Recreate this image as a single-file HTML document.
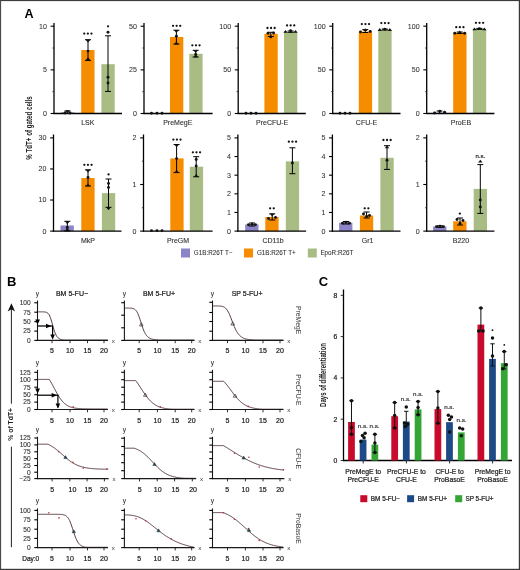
<!DOCTYPE html>
<html><head><meta charset="utf-8"><style>
html,body{margin:0;padding:0;background:#fff;width:520px;height:570px;overflow:hidden}
svg{display:block;will-change:transform}
text{font-family:"Liberation Sans", sans-serif}
</style></head><body>
<svg width="520" height="570" viewBox="0 0 520 570">
<rect width="520" height="570" fill="#fff"/>
<text x="24.60" y="18.40" font-size="12.6" text-anchor="start" fill="#000" font-weight="bold">A</text>
<rect x="61.00" y="112.40" width="13.30" height="1.10" fill="#8b84c6"/>
<rect x="81.20" y="50.00" width="13.30" height="63.50" fill="#f68c00"/>
<rect x="101.40" y="64.20" width="13.30" height="49.30" fill="#a8bc84"/>
<line x1="54.00" y1="22.90" x2="54.00" y2="114.10" stroke="#000" stroke-width="1.3"/>
<line x1="53.40" y1="113.50" x2="122.00" y2="113.50" stroke="#000" stroke-width="1.3"/>
<line x1="50.60" y1="26.20" x2="54.00" y2="26.20" stroke="#000" stroke-width="1.1"/>
<text x="47.00" y="28.60" font-size="7.1" text-anchor="end" fill="#333" font-weight="normal" stroke="#333" stroke-width="0.06">10</text>
<line x1="52.40" y1="48.02" x2="54.00" y2="48.02" stroke="#1a1a1a" stroke-width="0.8"/>
<line x1="50.60" y1="69.85" x2="54.00" y2="69.85" stroke="#000" stroke-width="1.1"/>
<text x="47.00" y="72.25" font-size="7.1" text-anchor="end" fill="#333" font-weight="normal" stroke="#333" stroke-width="0.06">5</text>
<line x1="52.40" y1="91.67" x2="54.00" y2="91.67" stroke="#1a1a1a" stroke-width="0.8"/>
<line x1="50.60" y1="113.50" x2="54.00" y2="113.50" stroke="#000" stroke-width="1.1"/>
<text x="47.00" y="115.90" font-size="7.1" text-anchor="end" fill="#333" font-weight="normal" stroke="#333" stroke-width="0.06">0</text>
<line x1="67.50" y1="111.00" x2="67.50" y2="113.50" stroke="#000" stroke-width="1.0"/>
<line x1="64.50" y1="111.00" x2="70.50" y2="111.00" stroke="#000" stroke-width="1.0"/>
<line x1="64.50" y1="113.50" x2="70.50" y2="113.50" stroke="#000" stroke-width="1.0"/>
<line x1="88.00" y1="39.70" x2="88.00" y2="60.40" stroke="#000" stroke-width="1.0"/>
<line x1="85.00" y1="39.70" x2="91.00" y2="39.70" stroke="#000" stroke-width="1.0"/>
<line x1="85.00" y1="60.40" x2="91.00" y2="60.40" stroke="#000" stroke-width="1.0"/>
<line x1="108.00" y1="35.80" x2="108.00" y2="91.40" stroke="#000" stroke-width="1.0"/>
<line x1="105.00" y1="35.80" x2="111.00" y2="35.80" stroke="#000" stroke-width="1.0"/>
<line x1="105.00" y1="91.40" x2="111.00" y2="91.40" stroke="#000" stroke-width="1.0"/>
<circle cx="65.00" cy="113.00" r="1.45" fill="#111"/>
<path d="M65.10,110.30L69.90,110.30L67.50,113.20Z" fill="#111"/>
<circle cx="70.00" cy="113.00" r="1.45" fill="#111"/>
<path d="M85.60,39.70L90.40,39.70L88.00,42.60Z" fill="#111"/>
<circle cx="88.00" cy="51.10" r="1.45" fill="#111"/>
<path d="M85.80,60.10L90.20,60.10L88.00,57.20Z" fill="#111"/>
<circle cx="108.00" cy="32.30" r="1.45" fill="#111"/>
<circle cx="108.00" cy="77.30" r="1.45" fill="#111"/>
<circle cx="108.00" cy="83.00" r="1.45" fill="#111"/>
<circle cx="84.25" cy="33.60" r="1.15" fill="#111"/>
<circle cx="87.85" cy="33.60" r="1.15" fill="#111"/>
<circle cx="91.45" cy="33.60" r="1.15" fill="#111"/>
<circle cx="108.05" cy="26.30" r="1.15" fill="#111"/>
<text x="87.85" y="124.50" font-size="7" text-anchor="middle" fill="#333" font-weight="normal" stroke="#333" stroke-width="0.12">LSK</text>
<rect x="170.00" y="37.00" width="13.30" height="76.50" fill="#f68c00"/>
<rect x="189.30" y="53.80" width="13.30" height="59.70" fill="#a8bc84"/>
<line x1="144.00" y1="22.90" x2="144.00" y2="114.10" stroke="#000" stroke-width="1.3"/>
<line x1="143.40" y1="113.50" x2="212.60" y2="113.50" stroke="#000" stroke-width="1.3"/>
<line x1="140.60" y1="26.20" x2="144.00" y2="26.20" stroke="#000" stroke-width="1.1"/>
<text x="137.00" y="28.60" font-size="7.1" text-anchor="end" fill="#333" font-weight="normal" stroke="#333" stroke-width="0.06">50</text>
<line x1="142.40" y1="48.02" x2="144.00" y2="48.02" stroke="#1a1a1a" stroke-width="0.8"/>
<line x1="140.60" y1="69.85" x2="144.00" y2="69.85" stroke="#000" stroke-width="1.1"/>
<text x="137.00" y="72.25" font-size="7.1" text-anchor="end" fill="#333" font-weight="normal" stroke="#333" stroke-width="0.06">25</text>
<line x1="142.40" y1="91.67" x2="144.00" y2="91.67" stroke="#1a1a1a" stroke-width="0.8"/>
<line x1="140.60" y1="113.50" x2="144.00" y2="113.50" stroke="#000" stroke-width="1.1"/>
<text x="137.00" y="115.90" font-size="7.1" text-anchor="end" fill="#333" font-weight="normal" stroke="#333" stroke-width="0.06">0</text>
<line x1="176.40" y1="30.20" x2="176.40" y2="44.10" stroke="#000" stroke-width="1.0"/>
<line x1="173.40" y1="30.20" x2="179.40" y2="30.20" stroke="#000" stroke-width="1.0"/>
<line x1="173.40" y1="44.10" x2="179.40" y2="44.10" stroke="#000" stroke-width="1.0"/>
<line x1="195.70" y1="50.30" x2="195.70" y2="57.00" stroke="#000" stroke-width="1.0"/>
<line x1="192.70" y1="50.30" x2="198.70" y2="50.30" stroke="#000" stroke-width="1.0"/>
<line x1="192.70" y1="57.00" x2="198.70" y2="57.00" stroke="#000" stroke-width="1.0"/>
<circle cx="151.50" cy="113.30" r="1.45" fill="#111"/>
<circle cx="157.00" cy="113.30" r="1.45" fill="#111"/>
<circle cx="162.00" cy="113.30" r="1.45" fill="#111"/>
<path d="M174.00,30.10L178.80,30.10L176.40,33.00Z" fill="#111"/>
<circle cx="176.40" cy="36.20" r="1.45" fill="#111"/>
<path d="M174.20,44.30L178.60,44.30L176.40,41.40Z" fill="#111"/>
<path d="M193.30,50.20L198.10,50.20L195.70,53.10Z" fill="#111"/>
<circle cx="195.70" cy="54.50" r="1.45" fill="#111"/>
<path d="M193.50,57.30L197.90,57.30L195.70,54.40Z" fill="#111"/>
<circle cx="173.05" cy="25.80" r="1.15" fill="#111"/>
<circle cx="176.65" cy="25.80" r="1.15" fill="#111"/>
<circle cx="180.25" cy="25.80" r="1.15" fill="#111"/>
<circle cx="192.35" cy="45.30" r="1.15" fill="#111"/>
<circle cx="195.95" cy="45.30" r="1.15" fill="#111"/>
<circle cx="199.55" cy="45.30" r="1.15" fill="#111"/>
<text x="177.75" y="124.50" font-size="7" text-anchor="middle" fill="#333" font-weight="normal" stroke="#333" stroke-width="0.12">PreMegE</text>
<rect x="264.40" y="33.80" width="13.30" height="79.70" fill="#f68c00"/>
<rect x="284.00" y="31.80" width="13.30" height="81.70" fill="#a8bc84"/>
<line x1="238.20" y1="22.90" x2="238.20" y2="114.10" stroke="#000" stroke-width="1.3"/>
<line x1="237.60" y1="113.50" x2="305.80" y2="113.50" stroke="#000" stroke-width="1.3"/>
<line x1="234.80" y1="26.20" x2="238.20" y2="26.20" stroke="#000" stroke-width="1.1"/>
<text x="231.20" y="28.60" font-size="7.1" text-anchor="end" fill="#333" font-weight="normal" stroke="#333" stroke-width="0.06">100</text>
<line x1="236.60" y1="48.02" x2="238.20" y2="48.02" stroke="#1a1a1a" stroke-width="0.8"/>
<line x1="234.80" y1="69.85" x2="238.20" y2="69.85" stroke="#000" stroke-width="1.1"/>
<text x="231.20" y="72.25" font-size="7.1" text-anchor="end" fill="#333" font-weight="normal" stroke="#333" stroke-width="0.06">50</text>
<line x1="236.60" y1="91.67" x2="238.20" y2="91.67" stroke="#1a1a1a" stroke-width="0.8"/>
<line x1="234.80" y1="113.50" x2="238.20" y2="113.50" stroke="#000" stroke-width="1.1"/>
<text x="231.20" y="115.90" font-size="7.1" text-anchor="end" fill="#333" font-weight="normal" stroke="#333" stroke-width="0.06">0</text>
<line x1="270.80" y1="32.30" x2="270.80" y2="36.50" stroke="#000" stroke-width="1.0"/>
<line x1="267.80" y1="32.30" x2="273.80" y2="32.30" stroke="#000" stroke-width="1.0"/>
<line x1="267.80" y1="36.50" x2="273.80" y2="36.50" stroke="#000" stroke-width="1.0"/>
<line x1="290.60" y1="31.00" x2="290.60" y2="32.30" stroke="#000" stroke-width="1.0"/>
<line x1="287.60" y1="31.00" x2="293.60" y2="31.00" stroke="#000" stroke-width="1.0"/>
<line x1="287.60" y1="32.30" x2="293.60" y2="32.30" stroke="#000" stroke-width="1.0"/>
<circle cx="246.00" cy="113.30" r="1.45" fill="#111"/>
<circle cx="251.00" cy="113.30" r="1.45" fill="#111"/>
<circle cx="256.00" cy="113.30" r="1.45" fill="#111"/>
<circle cx="268.00" cy="33.30" r="1.45" fill="#111"/>
<circle cx="270.80" cy="36.90" r="1.45" fill="#111"/>
<circle cx="273.60" cy="33.00" r="1.45" fill="#111"/>
<path d="M283.30,32.80L287.70,32.80L285.50,29.90Z" fill="#111"/>
<circle cx="290.60" cy="30.80" r="1.45" fill="#111"/>
<path d="M293.30,32.80L297.70,32.80L295.50,29.90Z" fill="#111"/>
<circle cx="267.45" cy="28.00" r="1.15" fill="#111"/>
<circle cx="271.05" cy="28.00" r="1.15" fill="#111"/>
<circle cx="274.65" cy="28.00" r="1.15" fill="#111"/>
<circle cx="287.05" cy="25.40" r="1.15" fill="#111"/>
<circle cx="290.65" cy="25.40" r="1.15" fill="#111"/>
<circle cx="294.25" cy="25.40" r="1.15" fill="#111"/>
<text x="272.15" y="124.50" font-size="7" text-anchor="middle" fill="#333" font-weight="normal" stroke="#333" stroke-width="0.12">PreCFU-E</text>
<rect x="358.80" y="31.60" width="13.30" height="81.90" fill="#f68c00"/>
<rect x="378.30" y="29.80" width="13.30" height="83.70" fill="#a8bc84"/>
<line x1="332.70" y1="22.90" x2="332.70" y2="114.10" stroke="#000" stroke-width="1.3"/>
<line x1="332.10" y1="113.50" x2="400.50" y2="113.50" stroke="#000" stroke-width="1.3"/>
<line x1="329.30" y1="26.20" x2="332.70" y2="26.20" stroke="#000" stroke-width="1.1"/>
<text x="325.70" y="28.60" font-size="7.1" text-anchor="end" fill="#333" font-weight="normal" stroke="#333" stroke-width="0.06">100</text>
<line x1="331.10" y1="48.02" x2="332.70" y2="48.02" stroke="#1a1a1a" stroke-width="0.8"/>
<line x1="329.30" y1="69.85" x2="332.70" y2="69.85" stroke="#000" stroke-width="1.1"/>
<text x="325.70" y="72.25" font-size="7.1" text-anchor="end" fill="#333" font-weight="normal" stroke="#333" stroke-width="0.06">50</text>
<line x1="331.10" y1="91.67" x2="332.70" y2="91.67" stroke="#1a1a1a" stroke-width="0.8"/>
<line x1="329.30" y1="113.50" x2="332.70" y2="113.50" stroke="#000" stroke-width="1.1"/>
<text x="325.70" y="115.90" font-size="7.1" text-anchor="end" fill="#333" font-weight="normal" stroke="#333" stroke-width="0.06">0</text>
<line x1="365.30" y1="29.60" x2="365.30" y2="32.50" stroke="#000" stroke-width="1.0"/>
<line x1="362.30" y1="29.60" x2="368.30" y2="29.60" stroke="#000" stroke-width="1.0"/>
<line x1="362.30" y1="32.50" x2="368.30" y2="32.50" stroke="#000" stroke-width="1.0"/>
<line x1="384.80" y1="29.00" x2="384.80" y2="30.00" stroke="#000" stroke-width="1.0"/>
<line x1="381.80" y1="29.00" x2="387.80" y2="29.00" stroke="#000" stroke-width="1.0"/>
<line x1="381.80" y1="30.00" x2="387.80" y2="30.00" stroke="#000" stroke-width="1.0"/>
<circle cx="340.00" cy="113.30" r="1.45" fill="#111"/>
<circle cx="345.00" cy="113.30" r="1.45" fill="#111"/>
<circle cx="350.00" cy="113.30" r="1.45" fill="#111"/>
<circle cx="360.50" cy="32.00" r="1.45" fill="#111"/>
<path d="M363.10,31.10L367.50,31.10L365.30,28.20Z" fill="#111"/>
<circle cx="370.20" cy="31.50" r="1.45" fill="#111"/>
<path d="M377.60,30.90L382.00,30.90L379.80,28.00Z" fill="#111"/>
<circle cx="384.80" cy="29.20" r="1.45" fill="#111"/>
<path d="M387.60,30.90L392.00,30.90L389.80,28.00Z" fill="#111"/>
<circle cx="361.85" cy="24.10" r="1.15" fill="#111"/>
<circle cx="365.45" cy="24.10" r="1.15" fill="#111"/>
<circle cx="369.05" cy="24.10" r="1.15" fill="#111"/>
<circle cx="381.35" cy="23.10" r="1.15" fill="#111"/>
<circle cx="384.95" cy="23.10" r="1.15" fill="#111"/>
<circle cx="388.55" cy="23.10" r="1.15" fill="#111"/>
<text x="366.55" y="124.50" font-size="7" text-anchor="middle" fill="#333" font-weight="normal" stroke="#333" stroke-width="0.12">CFU-E</text>
<rect x="433.00" y="112.60" width="13.30" height="0.90" fill="#8b84c6"/>
<rect x="453.20" y="32.60" width="13.30" height="80.90" fill="#f68c00"/>
<rect x="472.90" y="29.00" width="13.30" height="84.50" fill="#a8bc84"/>
<line x1="426.70" y1="22.90" x2="426.70" y2="114.10" stroke="#000" stroke-width="1.3"/>
<line x1="426.10" y1="113.50" x2="494.40" y2="113.50" stroke="#000" stroke-width="1.3"/>
<line x1="423.30" y1="26.20" x2="426.70" y2="26.20" stroke="#000" stroke-width="1.1"/>
<text x="419.70" y="28.60" font-size="7.1" text-anchor="end" fill="#333" font-weight="normal" stroke="#333" stroke-width="0.06">100</text>
<line x1="425.10" y1="48.02" x2="426.70" y2="48.02" stroke="#1a1a1a" stroke-width="0.8"/>
<line x1="423.30" y1="69.85" x2="426.70" y2="69.85" stroke="#000" stroke-width="1.1"/>
<text x="419.70" y="72.25" font-size="7.1" text-anchor="end" fill="#333" font-weight="normal" stroke="#333" stroke-width="0.06">50</text>
<line x1="425.10" y1="91.67" x2="426.70" y2="91.67" stroke="#1a1a1a" stroke-width="0.8"/>
<line x1="423.30" y1="113.50" x2="426.70" y2="113.50" stroke="#000" stroke-width="1.1"/>
<text x="419.70" y="115.90" font-size="7.1" text-anchor="end" fill="#333" font-weight="normal" stroke="#333" stroke-width="0.06">0</text>
<line x1="439.50" y1="111.00" x2="439.50" y2="113.50" stroke="#000" stroke-width="1.0"/>
<line x1="436.50" y1="111.00" x2="442.50" y2="111.00" stroke="#000" stroke-width="1.0"/>
<line x1="436.50" y1="113.50" x2="442.50" y2="113.50" stroke="#000" stroke-width="1.0"/>
<line x1="459.70" y1="32.00" x2="459.70" y2="33.50" stroke="#000" stroke-width="1.0"/>
<line x1="456.70" y1="32.00" x2="462.70" y2="32.00" stroke="#000" stroke-width="1.0"/>
<line x1="456.70" y1="33.50" x2="462.70" y2="33.50" stroke="#000" stroke-width="1.0"/>
<line x1="479.40" y1="28.40" x2="479.40" y2="29.40" stroke="#000" stroke-width="1.0"/>
<line x1="476.40" y1="28.40" x2="482.40" y2="28.40" stroke="#000" stroke-width="1.0"/>
<line x1="476.40" y1="29.40" x2="482.40" y2="29.40" stroke="#000" stroke-width="1.0"/>
<circle cx="434.60" cy="113.00" r="1.45" fill="#111"/>
<circle cx="439.80" cy="111.20" r="1.45" fill="#111"/>
<circle cx="444.60" cy="112.20" r="1.45" fill="#111"/>
<circle cx="454.80" cy="33.30" r="1.45" fill="#111"/>
<path d="M457.50,33.50L461.90,33.50L459.70,30.60Z" fill="#111"/>
<circle cx="464.60" cy="33.30" r="1.45" fill="#111"/>
<path d="M472.30,30.30L476.70,30.30L474.50,27.40Z" fill="#111"/>
<circle cx="479.40" cy="28.60" r="1.45" fill="#111"/>
<path d="M482.10,30.30L486.50,30.30L484.30,27.40Z" fill="#111"/>
<circle cx="456.25" cy="27.20" r="1.15" fill="#111"/>
<circle cx="459.85" cy="27.20" r="1.15" fill="#111"/>
<circle cx="463.45" cy="27.20" r="1.15" fill="#111"/>
<circle cx="475.95" cy="22.80" r="1.15" fill="#111"/>
<circle cx="479.55" cy="22.80" r="1.15" fill="#111"/>
<circle cx="483.15" cy="22.80" r="1.15" fill="#111"/>
<text x="460.95" y="124.50" font-size="7" text-anchor="middle" fill="#333" font-weight="normal" stroke="#333" stroke-width="0.12">ProEB</text>
<rect x="60.50" y="225.50" width="13.30" height="5.60" fill="#8b84c6"/>
<rect x="81.30" y="178.00" width="13.30" height="53.10" fill="#f68c00"/>
<rect x="101.90" y="193.10" width="13.30" height="38.00" fill="#a8bc84"/>
<line x1="53.50" y1="134.50" x2="53.50" y2="231.70" stroke="#000" stroke-width="1.3"/>
<line x1="52.90" y1="231.10" x2="121.50" y2="231.10" stroke="#000" stroke-width="1.3"/>
<line x1="50.10" y1="137.90" x2="53.50" y2="137.90" stroke="#000" stroke-width="1.1"/>
<text x="46.50" y="140.30" font-size="7.1" text-anchor="end" fill="#333" font-weight="normal" stroke="#333" stroke-width="0.06">30</text>
<line x1="50.10" y1="168.97" x2="53.50" y2="168.97" stroke="#000" stroke-width="1.1"/>
<text x="46.50" y="171.37" font-size="7.1" text-anchor="end" fill="#333" font-weight="normal" stroke="#333" stroke-width="0.06">20</text>
<line x1="50.10" y1="200.03" x2="53.50" y2="200.03" stroke="#000" stroke-width="1.1"/>
<text x="46.50" y="202.43" font-size="7.1" text-anchor="end" fill="#333" font-weight="normal" stroke="#333" stroke-width="0.06">10</text>
<line x1="50.10" y1="231.10" x2="53.50" y2="231.10" stroke="#000" stroke-width="1.1"/>
<text x="46.50" y="233.50" font-size="7.1" text-anchor="end" fill="#333" font-weight="normal" stroke="#333" stroke-width="0.06">0</text>
<line x1="67.30" y1="221.30" x2="67.30" y2="230.80" stroke="#000" stroke-width="1.0"/>
<line x1="64.30" y1="221.30" x2="70.30" y2="221.30" stroke="#000" stroke-width="1.0"/>
<line x1="64.30" y1="230.80" x2="70.30" y2="230.80" stroke="#000" stroke-width="1.0"/>
<line x1="88.00" y1="169.80" x2="88.00" y2="186.00" stroke="#000" stroke-width="1.0"/>
<line x1="85.00" y1="169.80" x2="91.00" y2="169.80" stroke="#000" stroke-width="1.0"/>
<line x1="85.00" y1="186.00" x2="91.00" y2="186.00" stroke="#000" stroke-width="1.0"/>
<line x1="108.50" y1="179.00" x2="108.50" y2="207.30" stroke="#000" stroke-width="1.0"/>
<line x1="105.50" y1="179.00" x2="111.50" y2="179.00" stroke="#000" stroke-width="1.0"/>
<line x1="105.50" y1="207.30" x2="111.50" y2="207.30" stroke="#000" stroke-width="1.0"/>
<path d="M64.90,221.30L69.70,221.30L67.30,224.20Z" fill="#111"/>
<circle cx="67.30" cy="227.50" r="1.45" fill="#111"/>
<circle cx="67.30" cy="230.00" r="1.45" fill="#111"/>
<path d="M85.60,169.70L90.40,169.70L88.00,172.60Z" fill="#111"/>
<circle cx="88.00" cy="177.50" r="1.45" fill="#111"/>
<path d="M85.80,186.30L90.20,186.30L88.00,183.40Z" fill="#111"/>
<circle cx="108.50" cy="183.50" r="1.45" fill="#111"/>
<circle cx="108.50" cy="187.50" r="1.45" fill="#111"/>
<path d="M106.10,207.30L110.90,207.30L108.50,210.20Z" fill="#111"/>
<circle cx="84.35" cy="164.80" r="1.15" fill="#111"/>
<circle cx="87.95" cy="164.80" r="1.15" fill="#111"/>
<circle cx="91.55" cy="164.80" r="1.15" fill="#111"/>
<circle cx="108.55" cy="174.40" r="1.15" fill="#111"/>
<text x="87.95" y="242.50" font-size="7" text-anchor="middle" fill="#333" font-weight="normal" stroke="#333" stroke-width="0.12">MkP</text>
<rect x="150.00" y="230.80" width="13.30" height="0.30" fill="#8b84c6"/>
<rect x="170.30" y="158.40" width="13.30" height="72.70" fill="#f68c00"/>
<rect x="189.80" y="166.70" width="13.30" height="64.40" fill="#a8bc84"/>
<line x1="143.50" y1="134.50" x2="143.50" y2="231.70" stroke="#000" stroke-width="1.3"/>
<line x1="142.90" y1="231.10" x2="212.60" y2="231.10" stroke="#000" stroke-width="1.3"/>
<line x1="140.10" y1="137.90" x2="143.50" y2="137.90" stroke="#000" stroke-width="1.1"/>
<text x="136.50" y="140.30" font-size="7.1" text-anchor="end" fill="#333" font-weight="normal" stroke="#333" stroke-width="0.06">2</text>
<line x1="141.90" y1="161.20" x2="143.50" y2="161.20" stroke="#1a1a1a" stroke-width="0.8"/>
<line x1="140.10" y1="184.50" x2="143.50" y2="184.50" stroke="#000" stroke-width="1.1"/>
<text x="136.50" y="186.90" font-size="7.1" text-anchor="end" fill="#333" font-weight="normal" stroke="#333" stroke-width="0.06">1</text>
<line x1="141.90" y1="207.80" x2="143.50" y2="207.80" stroke="#1a1a1a" stroke-width="0.8"/>
<line x1="140.10" y1="231.10" x2="143.50" y2="231.10" stroke="#000" stroke-width="1.1"/>
<text x="136.50" y="233.50" font-size="7.1" text-anchor="end" fill="#333" font-weight="normal" stroke="#333" stroke-width="0.06">0</text>
<line x1="176.60" y1="144.50" x2="176.60" y2="172.60" stroke="#000" stroke-width="1.0"/>
<line x1="173.60" y1="144.50" x2="179.60" y2="144.50" stroke="#000" stroke-width="1.0"/>
<line x1="173.60" y1="172.60" x2="179.60" y2="172.60" stroke="#000" stroke-width="1.0"/>
<line x1="196.20" y1="156.70" x2="196.20" y2="176.80" stroke="#000" stroke-width="1.0"/>
<line x1="193.20" y1="156.70" x2="199.20" y2="156.70" stroke="#000" stroke-width="1.0"/>
<line x1="193.20" y1="176.80" x2="199.20" y2="176.80" stroke="#000" stroke-width="1.0"/>
<circle cx="151.50" cy="230.60" r="1.45" fill="#111"/>
<circle cx="157.00" cy="230.60" r="1.45" fill="#111"/>
<circle cx="162.00" cy="230.60" r="1.45" fill="#111"/>
<circle cx="176.60" cy="158.60" r="1.45" fill="#111"/>
<path d="M174.20,144.40L179.00,144.40L176.60,147.30Z" fill="#111"/>
<path d="M174.40,172.70L178.80,172.70L176.60,169.80Z" fill="#111"/>
<circle cx="196.20" cy="159.50" r="1.45" fill="#111"/>
<circle cx="196.20" cy="166.00" r="1.45" fill="#111"/>
<path d="M194.00,176.90L198.40,176.90L196.20,174.00Z" fill="#111"/>
<circle cx="173.35" cy="139.60" r="1.15" fill="#111"/>
<circle cx="176.95" cy="139.60" r="1.15" fill="#111"/>
<circle cx="180.55" cy="139.60" r="1.15" fill="#111"/>
<circle cx="192.85" cy="152.30" r="1.15" fill="#111"/>
<circle cx="196.45" cy="152.30" r="1.15" fill="#111"/>
<circle cx="200.05" cy="152.30" r="1.15" fill="#111"/>
<text x="178.05" y="242.50" font-size="7" text-anchor="middle" fill="#333" font-weight="normal" stroke="#333" stroke-width="0.12">PreGM</text>
<rect x="245.20" y="224.40" width="13.30" height="6.70" fill="#8b84c6"/>
<rect x="265.30" y="217.00" width="13.30" height="14.10" fill="#f68c00"/>
<rect x="285.80" y="161.40" width="13.30" height="69.70" fill="#a8bc84"/>
<line x1="237.90" y1="134.50" x2="237.90" y2="231.70" stroke="#000" stroke-width="1.3"/>
<line x1="237.30" y1="231.10" x2="306.10" y2="231.10" stroke="#000" stroke-width="1.3"/>
<line x1="234.50" y1="137.90" x2="237.90" y2="137.90" stroke="#000" stroke-width="1.1"/>
<text x="230.90" y="140.30" font-size="7.1" text-anchor="end" fill="#333" font-weight="normal" stroke="#333" stroke-width="0.06">5</text>
<line x1="234.50" y1="156.54" x2="237.90" y2="156.54" stroke="#000" stroke-width="1.1"/>
<text x="230.90" y="158.94" font-size="7.1" text-anchor="end" fill="#333" font-weight="normal" stroke="#333" stroke-width="0.06">4</text>
<line x1="234.50" y1="175.18" x2="237.90" y2="175.18" stroke="#000" stroke-width="1.1"/>
<text x="230.90" y="177.58" font-size="7.1" text-anchor="end" fill="#333" font-weight="normal" stroke="#333" stroke-width="0.06">3</text>
<line x1="234.50" y1="193.82" x2="237.90" y2="193.82" stroke="#000" stroke-width="1.1"/>
<text x="230.90" y="196.22" font-size="7.1" text-anchor="end" fill="#333" font-weight="normal" stroke="#333" stroke-width="0.06">2</text>
<line x1="234.50" y1="212.46" x2="237.90" y2="212.46" stroke="#000" stroke-width="1.1"/>
<text x="230.90" y="214.86" font-size="7.1" text-anchor="end" fill="#333" font-weight="normal" stroke="#333" stroke-width="0.06">1</text>
<line x1="234.50" y1="231.10" x2="237.90" y2="231.10" stroke="#000" stroke-width="1.1"/>
<text x="230.90" y="233.50" font-size="7.1" text-anchor="end" fill="#333" font-weight="normal" stroke="#333" stroke-width="0.06">0</text>
<line x1="252.10" y1="223.00" x2="252.10" y2="226.00" stroke="#000" stroke-width="1.0"/>
<line x1="249.10" y1="223.00" x2="255.10" y2="223.00" stroke="#000" stroke-width="1.0"/>
<line x1="249.10" y1="226.00" x2="255.10" y2="226.00" stroke="#000" stroke-width="1.0"/>
<line x1="272.20" y1="213.90" x2="272.20" y2="220.00" stroke="#000" stroke-width="1.0"/>
<line x1="269.20" y1="213.90" x2="275.20" y2="213.90" stroke="#000" stroke-width="1.0"/>
<line x1="269.20" y1="220.00" x2="275.20" y2="220.00" stroke="#000" stroke-width="1.0"/>
<line x1="292.40" y1="147.80" x2="292.40" y2="173.70" stroke="#000" stroke-width="1.0"/>
<line x1="289.40" y1="147.80" x2="295.40" y2="147.80" stroke="#000" stroke-width="1.0"/>
<line x1="289.40" y1="173.70" x2="295.40" y2="173.70" stroke="#000" stroke-width="1.0"/>
<circle cx="248.50" cy="224.80" r="1.45" fill="#111"/>
<path d="M249.90,224.90L254.30,224.90L252.10,222.00Z" fill="#111"/>
<circle cx="255.50" cy="224.60" r="1.45" fill="#111"/>
<circle cx="268.50" cy="218.50" r="1.45" fill="#111"/>
<path d="M269.80,213.60L274.60,213.60L272.20,216.50Z" fill="#111"/>
<circle cx="275.50" cy="217.50" r="1.45" fill="#111"/>
<circle cx="292.40" cy="163.00" r="1.45" fill="#111"/>
<circle cx="270.15" cy="208.30" r="1.15" fill="#111"/>
<circle cx="273.75" cy="208.30" r="1.15" fill="#111"/>
<circle cx="288.85" cy="141.70" r="1.15" fill="#111"/>
<circle cx="292.45" cy="141.70" r="1.15" fill="#111"/>
<circle cx="296.05" cy="141.70" r="1.15" fill="#111"/>
<text x="273.05" y="242.50" font-size="7" text-anchor="middle" fill="#333" font-weight="normal" stroke="#333" stroke-width="0.12">CD11b</text>
<rect x="339.10" y="222.70" width="13.30" height="8.40" fill="#8b84c6"/>
<rect x="359.90" y="215.50" width="13.30" height="15.60" fill="#f68c00"/>
<rect x="380.40" y="157.80" width="13.30" height="73.30" fill="#a8bc84"/>
<line x1="332.40" y1="134.50" x2="332.40" y2="231.70" stroke="#000" stroke-width="1.3"/>
<line x1="331.80" y1="231.10" x2="400.50" y2="231.10" stroke="#000" stroke-width="1.3"/>
<line x1="329.00" y1="137.90" x2="332.40" y2="137.90" stroke="#000" stroke-width="1.1"/>
<text x="325.40" y="140.30" font-size="7.1" text-anchor="end" fill="#333" font-weight="normal" stroke="#333" stroke-width="0.06">5</text>
<line x1="329.00" y1="156.54" x2="332.40" y2="156.54" stroke="#000" stroke-width="1.1"/>
<text x="325.40" y="158.94" font-size="7.1" text-anchor="end" fill="#333" font-weight="normal" stroke="#333" stroke-width="0.06">4</text>
<line x1="329.00" y1="175.18" x2="332.40" y2="175.18" stroke="#000" stroke-width="1.1"/>
<text x="325.40" y="177.58" font-size="7.1" text-anchor="end" fill="#333" font-weight="normal" stroke="#333" stroke-width="0.06">3</text>
<line x1="329.00" y1="193.82" x2="332.40" y2="193.82" stroke="#000" stroke-width="1.1"/>
<text x="325.40" y="196.22" font-size="7.1" text-anchor="end" fill="#333" font-weight="normal" stroke="#333" stroke-width="0.06">2</text>
<line x1="329.00" y1="212.46" x2="332.40" y2="212.46" stroke="#000" stroke-width="1.1"/>
<text x="325.40" y="214.86" font-size="7.1" text-anchor="end" fill="#333" font-weight="normal" stroke="#333" stroke-width="0.06">1</text>
<line x1="329.00" y1="231.10" x2="332.40" y2="231.10" stroke="#000" stroke-width="1.1"/>
<text x="325.40" y="233.50" font-size="7.1" text-anchor="end" fill="#333" font-weight="normal" stroke="#333" stroke-width="0.06">0</text>
<line x1="346.00" y1="221.50" x2="346.00" y2="224.00" stroke="#000" stroke-width="1.0"/>
<line x1="343.00" y1="221.50" x2="349.00" y2="221.50" stroke="#000" stroke-width="1.0"/>
<line x1="343.00" y1="224.00" x2="349.00" y2="224.00" stroke="#000" stroke-width="1.0"/>
<line x1="366.60" y1="212.00" x2="366.60" y2="218.00" stroke="#000" stroke-width="1.0"/>
<line x1="363.60" y1="212.00" x2="369.60" y2="212.00" stroke="#000" stroke-width="1.0"/>
<line x1="363.60" y1="218.00" x2="369.60" y2="218.00" stroke="#000" stroke-width="1.0"/>
<line x1="387.00" y1="145.70" x2="387.00" y2="169.40" stroke="#000" stroke-width="1.0"/>
<line x1="384.00" y1="145.70" x2="390.00" y2="145.70" stroke="#000" stroke-width="1.0"/>
<line x1="384.00" y1="169.40" x2="390.00" y2="169.40" stroke="#000" stroke-width="1.0"/>
<circle cx="342.50" cy="223.30" r="1.45" fill="#111"/>
<path d="M343.80,223.30L348.20,223.30L346.00,220.40Z" fill="#111"/>
<circle cx="349.50" cy="223.30" r="1.45" fill="#111"/>
<circle cx="363.50" cy="214.00" r="1.45" fill="#111"/>
<circle cx="366.60" cy="216.50" r="1.45" fill="#111"/>
<circle cx="369.50" cy="215.50" r="1.45" fill="#111"/>
<circle cx="387.00" cy="160.20" r="1.45" fill="#111"/>
<path d="M384.80,148.30L389.20,148.30L387.00,145.40Z" fill="#111"/>
<circle cx="364.75" cy="208.30" r="1.15" fill="#111"/>
<circle cx="368.35" cy="208.30" r="1.15" fill="#111"/>
<circle cx="383.45" cy="140.00" r="1.15" fill="#111"/>
<circle cx="387.05" cy="140.00" r="1.15" fill="#111"/>
<circle cx="390.65" cy="140.00" r="1.15" fill="#111"/>
<text x="367.65" y="242.50" font-size="7" text-anchor="middle" fill="#333" font-weight="normal" stroke="#333" stroke-width="0.12">Gr1</text>
<rect x="433.10" y="226.50" width="13.30" height="4.60" fill="#8b84c6"/>
<rect x="453.20" y="221.30" width="13.30" height="9.80" fill="#f68c00"/>
<rect x="473.70" y="188.90" width="13.30" height="42.20" fill="#a8bc84"/>
<line x1="426.70" y1="134.50" x2="426.70" y2="231.70" stroke="#000" stroke-width="1.3"/>
<line x1="426.10" y1="231.10" x2="494.40" y2="231.10" stroke="#000" stroke-width="1.3"/>
<line x1="423.30" y1="137.90" x2="426.70" y2="137.90" stroke="#000" stroke-width="1.1"/>
<text x="419.70" y="140.30" font-size="7.1" text-anchor="end" fill="#333" font-weight="normal" stroke="#333" stroke-width="0.06">2</text>
<line x1="425.10" y1="161.20" x2="426.70" y2="161.20" stroke="#1a1a1a" stroke-width="0.8"/>
<line x1="423.30" y1="184.50" x2="426.70" y2="184.50" stroke="#000" stroke-width="1.1"/>
<text x="419.70" y="186.90" font-size="7.1" text-anchor="end" fill="#333" font-weight="normal" stroke="#333" stroke-width="0.06">1</text>
<line x1="425.10" y1="207.80" x2="426.70" y2="207.80" stroke="#1a1a1a" stroke-width="0.8"/>
<line x1="423.30" y1="231.10" x2="426.70" y2="231.10" stroke="#000" stroke-width="1.1"/>
<text x="419.70" y="233.50" font-size="7.1" text-anchor="end" fill="#333" font-weight="normal" stroke="#333" stroke-width="0.06">0</text>
<line x1="440.00" y1="225.80" x2="440.00" y2="227.30" stroke="#000" stroke-width="1.0"/>
<line x1="437.00" y1="225.80" x2="443.00" y2="225.80" stroke="#000" stroke-width="1.0"/>
<line x1="437.00" y1="227.30" x2="443.00" y2="227.30" stroke="#000" stroke-width="1.0"/>
<line x1="460.00" y1="218.00" x2="460.00" y2="225.00" stroke="#000" stroke-width="1.0"/>
<line x1="457.00" y1="218.00" x2="463.00" y2="218.00" stroke="#000" stroke-width="1.0"/>
<line x1="457.00" y1="225.00" x2="463.00" y2="225.00" stroke="#000" stroke-width="1.0"/>
<line x1="480.30" y1="164.60" x2="480.30" y2="213.40" stroke="#000" stroke-width="1.0"/>
<line x1="477.30" y1="164.60" x2="483.30" y2="164.60" stroke="#000" stroke-width="1.0"/>
<line x1="477.30" y1="213.40" x2="483.30" y2="213.40" stroke="#000" stroke-width="1.0"/>
<circle cx="436.50" cy="226.60" r="1.45" fill="#111"/>
<circle cx="440.00" cy="226.30" r="1.45" fill="#111"/>
<circle cx="443.50" cy="226.60" r="1.45" fill="#111"/>
<circle cx="457.00" cy="219.50" r="1.45" fill="#111"/>
<circle cx="460.00" cy="223.50" r="1.45" fill="#111"/>
<circle cx="463.00" cy="220.50" r="1.45" fill="#111"/>
<path d="M478.10,162.60L482.50,162.60L480.30,159.70Z" fill="#111"/>
<circle cx="480.30" cy="200.00" r="1.45" fill="#111"/>
<circle cx="480.30" cy="207.00" r="1.45" fill="#111"/>
<circle cx="459.85" cy="213.60" r="1.15" fill="#111"/>
<text x="480.35" y="157.50" font-size="6" text-anchor="middle" fill="#222222" font-weight="normal" stroke="#222222" stroke-width="0.22">n.s.</text>
<text x="460.95" y="242.50" font-size="7" text-anchor="middle" fill="#333" font-weight="normal" stroke="#333" stroke-width="0.12">B220</text>
<text x="31.70" y="128.00" font-size="8.8" text-anchor="middle" fill="#222" font-weight="bold" transform="rotate(-90 31.7 128.0)" textLength="63.5" lengthAdjust="spacingAndGlyphs">% TdT+ of gated cells</text>
<rect x="181.00" y="248.50" width="9.00" height="9.00" fill="#8b84c6"/>
<text x="193.80" y="255.10" font-size="6.3" text-anchor="start" fill="#333" font-weight="normal" stroke="#333" stroke-width="0.08">G1B:R26T T&#8722;</text>
<rect x="244.00" y="248.50" width="9.00" height="9.00" fill="#f68c00"/>
<text x="256.90" y="255.10" font-size="6.3" text-anchor="start" fill="#333" font-weight="normal" stroke="#333" stroke-width="0.08">G1B:R26T T+</text>
<rect x="307.80" y="248.50" width="9.00" height="9.00" fill="#a8bc84"/>
<text x="320.40" y="255.10" font-size="6.3" text-anchor="start" fill="#333" font-weight="normal" stroke="#333" stroke-width="0.08">EpoR:R26T</text>
<text x="7.10" y="285.90" font-size="13" text-anchor="start" fill="#000" font-weight="bold">B</text>
<text x="72.00" y="296.20" font-size="7" text-anchor="middle" fill="#222" font-weight="normal" stroke="#222" stroke-width="0.22">BM 5-FU&#8722;</text>
<text x="159.00" y="296.20" font-size="7" text-anchor="middle" fill="#222" font-weight="normal" stroke="#222" stroke-width="0.22">BM 5-FU+</text>
<text x="247.10" y="296.20" font-size="7" text-anchor="middle" fill="#222" font-weight="normal" stroke="#222" stroke-width="0.22">SP 5-FU+</text>
<path d="M37.50,311.86 L38.08,311.86 L38.67,311.86 L39.25,311.86 L39.83,311.86 L40.42,311.86 L41.00,311.86 L41.58,311.86 L42.17,311.86 L42.75,311.87 L43.33,311.88 L43.92,311.91 L44.50,311.94 L45.08,312.01 L45.67,312.11 L46.25,312.27 L46.83,312.50 L47.42,312.84 L48.00,313.33 L48.58,314.00 L49.17,314.89 L49.75,316.04 L50.33,317.46 L50.92,319.14 L51.50,321.05 L52.08,323.11 L52.67,325.24 L53.25,327.33 L53.83,329.32 L54.42,331.13 L55.00,332.72 L55.58,334.10 L56.17,335.26 L56.75,336.22 L57.33,337.01 L57.92,337.65 L58.50,338.17 L59.08,338.59 L59.67,338.93 L60.25,339.20 L60.83,339.42 L61.42,339.60 L62.00,339.75 L62.58,339.86 L63.17,339.96 L63.75,340.04 L64.33,340.10 L64.92,340.10 L65.50,340.10 L66.08,340.10 L66.67,340.10 L67.25,340.10 L67.83,340.10 L68.42,340.10 L69.00,340.10 L69.58,340.10 L70.17,340.10 L70.75,340.10 L71.33,340.10 L71.92,340.10 L72.50,340.10 L73.08,340.10 L73.67,340.10 L74.25,340.10 L74.83,340.10 L75.42,340.10 L76.00,340.10 L76.58,340.10 L77.17,340.10 L77.75,340.10 L78.33,340.10 L78.92,340.10 L79.50,340.10 L80.08,340.10 L80.67,340.10 L81.25,340.10 L81.83,340.10 L82.42,340.10 L83.00,340.10 L83.58,340.10 L84.17,340.10 L84.75,340.10 L85.33,340.10 L85.92,340.10 L86.50,340.10 L87.08,340.10 L87.67,340.10 L88.25,340.10 L88.83,340.10 L89.42,340.10 L90.00,340.10 L90.58,340.10 L91.17,340.10 L91.75,340.10 L92.33,340.10 L92.92,340.10 L93.50,340.10 L94.08,340.10 L94.67,340.10 L95.25,340.10 L95.83,340.10 L96.42,340.10 L97.00,340.10 L97.58,340.10 L98.17,340.10 L98.75,340.10 L99.33,340.10 L99.92,340.10 L100.50,340.10 L101.08,340.10 L101.67,340.10 L102.25,340.10 L102.83,340.10 L103.42,340.10 L104.00,340.10 L104.58,340.10 L105.17,340.10 L105.75,340.10 L106.33,340.10 L106.92,340.10 L107.50,340.10" fill="none" stroke="#45262d" stroke-width="0.9"/>
<line x1="37.50" y1="300.50" x2="37.50" y2="340.90" stroke="#1a1a1a" stroke-width="1.1"/>
<line x1="37.00" y1="340.40" x2="108.00" y2="340.40" stroke="#1a1a1a" stroke-width="1.1"/>
<text x="113.30" y="342.50" font-size="6.2" text-anchor="middle" fill="#333" font-weight="normal">x</text>
<text x="37.50" y="295.70" font-size="6.6" text-anchor="middle" fill="#333" font-weight="normal" stroke="#333" stroke-width="0.1">y</text>
<line x1="34.30" y1="302.80" x2="37.50" y2="302.80" stroke="#000" stroke-width="1.1"/>
<text x="30.70" y="305.15" font-size="6.6" text-anchor="end" fill="#2a2a2a" font-weight="normal" stroke="#2a2a2a" stroke-width="0.08">100</text>
<line x1="34.30" y1="312.20" x2="37.50" y2="312.20" stroke="#000" stroke-width="1.1"/>
<text x="30.70" y="314.55" font-size="6.6" text-anchor="end" fill="#2a2a2a" font-weight="normal" stroke="#2a2a2a" stroke-width="0.08">75</text>
<line x1="34.30" y1="321.70" x2="37.50" y2="321.70" stroke="#000" stroke-width="1.1"/>
<text x="30.70" y="324.05" font-size="6.6" text-anchor="end" fill="#2a2a2a" font-weight="normal" stroke="#2a2a2a" stroke-width="0.08">50</text>
<line x1="34.30" y1="331.10" x2="37.50" y2="331.10" stroke="#000" stroke-width="1.1"/>
<text x="30.70" y="333.45" font-size="6.6" text-anchor="end" fill="#2a2a2a" font-weight="normal" stroke="#2a2a2a" stroke-width="0.08">25</text>
<line x1="34.30" y1="340.40" x2="37.50" y2="340.40" stroke="#000" stroke-width="1.1"/>
<text x="30.70" y="342.75" font-size="6.6" text-anchor="end" fill="#2a2a2a" font-weight="normal" stroke="#2a2a2a" stroke-width="0.08">0</text>
<line x1="52.00" y1="340.40" x2="52.00" y2="343.20" stroke="#1a1a1a" stroke-width="0.9"/>
<text x="52.00" y="353.40" font-size="7" text-anchor="middle" fill="#222" font-weight="normal" stroke="#222" stroke-width="0.22">5</text>
<line x1="70.00" y1="340.40" x2="70.00" y2="343.20" stroke="#1a1a1a" stroke-width="0.9"/>
<text x="70.00" y="353.40" font-size="7" text-anchor="middle" fill="#222" font-weight="normal" stroke="#222" stroke-width="0.22">10</text>
<line x1="87.50" y1="340.40" x2="87.50" y2="343.20" stroke="#1a1a1a" stroke-width="0.9"/>
<text x="87.50" y="353.40" font-size="7" text-anchor="middle" fill="#222" font-weight="normal" stroke="#222" stroke-width="0.22">15</text>
<line x1="104.00" y1="340.40" x2="104.00" y2="343.20" stroke="#1a1a1a" stroke-width="0.9"/>
<text x="104.00" y="353.40" font-size="7" text-anchor="middle" fill="#222" font-weight="normal" stroke="#222" stroke-width="0.22">20</text>
<path d="M124.40,308.06 L124.98,308.06 L125.56,308.06 L126.14,308.06 L126.72,308.06 L127.30,308.06 L127.89,308.06 L128.47,308.06 L129.05,308.07 L129.63,308.08 L130.21,308.10 L130.79,308.14 L131.37,308.18 L131.95,308.26 L132.53,308.36 L133.11,308.51 L133.69,308.72 L134.27,309.01 L134.86,309.39 L135.44,309.88 L136.02,310.51 L136.60,311.30 L137.18,312.27 L137.76,313.42 L138.34,314.75 L138.92,316.26 L139.50,317.91 L140.08,319.68 L140.66,321.51 L141.24,323.35 L141.82,325.17 L142.41,326.90 L142.99,328.53 L143.57,330.03 L144.15,331.38 L144.73,332.59 L145.31,333.65 L145.89,334.58 L146.47,335.39 L147.05,336.08 L147.63,336.67 L148.21,337.18 L148.80,337.62 L149.38,337.99 L149.96,338.30 L150.54,338.57 L151.12,338.80 L151.70,339.00 L152.28,339.17 L152.86,339.31 L153.44,339.43 L154.02,339.54 L154.60,339.63 L155.18,339.71 L155.76,339.78 L156.35,339.84 L156.93,339.89 L157.51,339.93 L158.09,339.97 L158.67,340.00 L159.25,340.03 L159.83,340.06 L160.41,340.08 L160.99,340.10 L161.57,340.10 L162.15,340.10 L162.74,340.10 L163.32,340.10 L163.90,340.10 L164.48,340.10 L165.06,340.10 L165.64,340.10 L166.22,340.10 L166.80,340.10 L167.38,340.10 L167.96,340.10 L168.54,340.10 L169.12,340.10 L169.70,340.10 L170.29,340.10 L170.87,340.10 L171.45,340.10 L172.03,340.10 L172.61,340.10 L173.19,340.10 L173.77,340.10 L174.35,340.10 L174.93,340.10 L175.51,340.10 L176.09,340.10 L176.68,340.10 L177.26,340.10 L177.84,340.10 L178.42,340.10 L179.00,340.10 L179.58,340.10 L180.16,340.10 L180.74,340.10 L181.32,340.10 L181.90,340.10 L182.48,340.10 L183.06,340.10 L183.64,340.10 L184.23,340.10 L184.81,340.10 L185.39,340.10 L185.97,340.10 L186.55,340.10 L187.13,340.10 L187.71,340.10 L188.29,340.10 L188.87,340.10 L189.45,340.10 L190.03,340.10 L190.62,340.10 L191.20,340.10 L191.78,340.10 L192.36,340.10 L192.94,340.10 L193.52,340.10 L194.10,340.10" fill="none" stroke="#45262d" stroke-width="0.9"/>
<path d="M139.50,325.90L143.10,325.90L141.30,322.70Z" fill="none" stroke="#333" stroke-width="0.7"/>
<line x1="124.40" y1="300.50" x2="124.40" y2="340.90" stroke="#1a1a1a" stroke-width="1.1"/>
<line x1="123.90" y1="340.40" x2="194.60" y2="340.40" stroke="#1a1a1a" stroke-width="1.1"/>
<text x="199.90" y="342.50" font-size="6.2" text-anchor="middle" fill="#333" font-weight="normal">x</text>
<text x="124.40" y="295.70" font-size="6.6" text-anchor="middle" fill="#333" font-weight="normal" stroke="#333" stroke-width="0.1">y</text>
<line x1="121.20" y1="302.70" x2="124.40" y2="302.70" stroke="#000" stroke-width="1.1"/>
<line x1="121.20" y1="315.20" x2="124.40" y2="315.20" stroke="#000" stroke-width="1.1"/>
<line x1="121.20" y1="327.80" x2="124.40" y2="327.80" stroke="#000" stroke-width="1.1"/>
<line x1="121.20" y1="340.40" x2="124.40" y2="340.40" stroke="#000" stroke-width="1.1"/>
<line x1="139.20" y1="340.40" x2="139.20" y2="343.20" stroke="#1a1a1a" stroke-width="0.9"/>
<text x="139.20" y="353.40" font-size="7" text-anchor="middle" fill="#222" font-weight="normal" stroke="#222" stroke-width="0.22">5</text>
<line x1="157.40" y1="340.40" x2="157.40" y2="343.20" stroke="#1a1a1a" stroke-width="0.9"/>
<text x="157.40" y="353.40" font-size="7" text-anchor="middle" fill="#222" font-weight="normal" stroke="#222" stroke-width="0.22">10</text>
<line x1="175.20" y1="340.40" x2="175.20" y2="343.20" stroke="#1a1a1a" stroke-width="0.9"/>
<text x="175.20" y="353.40" font-size="7" text-anchor="middle" fill="#222" font-weight="normal" stroke="#222" stroke-width="0.22">15</text>
<line x1="191.70" y1="340.40" x2="191.70" y2="343.20" stroke="#1a1a1a" stroke-width="0.9"/>
<text x="191.70" y="353.40" font-size="7" text-anchor="middle" fill="#222" font-weight="normal" stroke="#222" stroke-width="0.22">20</text>
<path d="M212.50,305.93 L213.09,305.93 L213.68,305.93 L214.26,305.93 L214.85,305.93 L215.44,305.94 L216.03,305.94 L216.62,305.94 L217.21,305.95 L217.80,305.96 L218.38,305.97 L218.97,305.99 L219.56,306.02 L220.15,306.06 L220.74,306.12 L221.33,306.21 L221.91,306.32 L222.50,306.46 L223.09,306.65 L223.68,306.90 L224.27,307.21 L224.85,307.60 L225.44,308.07 L226.03,308.65 L226.62,309.34 L227.21,310.15 L227.80,311.08 L228.39,312.14 L228.97,313.32 L229.56,314.62 L230.15,316.01 L230.74,317.48 L231.33,319.01 L231.92,320.57 L232.50,322.12 L233.09,323.66 L233.68,325.15 L234.27,326.58 L234.86,327.92 L235.44,329.18 L236.03,330.35 L236.62,331.41 L237.21,332.38 L237.80,333.26 L238.39,334.04 L238.98,334.75 L239.56,335.37 L240.15,335.93 L240.74,336.43 L241.33,336.87 L241.92,337.25 L242.50,337.60 L243.09,337.90 L243.68,338.17 L244.27,338.41 L244.86,338.61 L245.45,338.80 L246.04,338.96 L246.62,339.11 L247.21,339.24 L247.80,339.35 L248.39,339.46 L248.98,339.55 L249.56,339.63 L250.15,339.70 L250.74,339.77 L251.33,339.82 L251.92,339.88 L252.51,339.92 L253.10,339.96 L253.68,340.00 L254.27,340.03 L254.86,340.07 L255.45,340.09 L256.04,340.10 L256.62,340.10 L257.21,340.10 L257.80,340.10 L258.39,340.10 L258.98,340.10 L259.57,340.10 L260.16,340.10 L260.74,340.10 L261.33,340.10 L261.92,340.10 L262.51,340.10 L263.10,340.10 L263.69,340.10 L264.27,340.10 L264.86,340.10 L265.45,340.10 L266.04,340.10 L266.63,340.10 L267.22,340.10 L267.80,340.10 L268.39,340.10 L268.98,340.10 L269.57,340.10 L270.16,340.10 L270.75,340.10 L271.33,340.10 L271.92,340.10 L272.51,340.10 L273.10,340.10 L273.69,340.10 L274.28,340.10 L274.86,340.10 L275.45,340.10 L276.04,340.10 L276.63,340.10 L277.22,340.10 L277.81,340.10 L278.39,340.10 L278.98,340.10 L279.57,340.10 L280.16,340.10 L280.75,340.10 L281.34,340.10 L281.92,340.10 L282.51,340.10 L283.10,340.10" fill="none" stroke="#45262d" stroke-width="0.9"/>
<path d="M230.90,325.00L234.50,325.00L232.70,321.80Z" fill="none" stroke="#333" stroke-width="0.7"/>
<line x1="212.50" y1="300.50" x2="212.50" y2="340.90" stroke="#1a1a1a" stroke-width="1.1"/>
<line x1="212.00" y1="340.40" x2="283.60" y2="340.40" stroke="#1a1a1a" stroke-width="1.1"/>
<text x="288.90" y="342.50" font-size="6.2" text-anchor="middle" fill="#333" font-weight="normal">x</text>
<text x="212.50" y="295.70" font-size="6.6" text-anchor="middle" fill="#333" font-weight="normal" stroke="#333" stroke-width="0.1">y</text>
<line x1="209.30" y1="302.30" x2="212.50" y2="302.30" stroke="#000" stroke-width="1.1"/>
<line x1="209.30" y1="312.50" x2="212.50" y2="312.50" stroke="#000" stroke-width="1.1"/>
<line x1="209.30" y1="321.50" x2="212.50" y2="321.50" stroke="#000" stroke-width="1.1"/>
<line x1="209.30" y1="331.20" x2="212.50" y2="331.20" stroke="#000" stroke-width="1.1"/>
<line x1="209.30" y1="340.40" x2="212.50" y2="340.40" stroke="#000" stroke-width="1.1"/>
<line x1="227.50" y1="340.40" x2="227.50" y2="343.20" stroke="#1a1a1a" stroke-width="0.9"/>
<text x="227.50" y="353.40" font-size="7" text-anchor="middle" fill="#222" font-weight="normal" stroke="#222" stroke-width="0.22">5</text>
<line x1="245.40" y1="340.40" x2="245.40" y2="343.20" stroke="#1a1a1a" stroke-width="0.9"/>
<text x="245.40" y="353.40" font-size="7" text-anchor="middle" fill="#222" font-weight="normal" stroke="#222" stroke-width="0.22">10</text>
<line x1="263.00" y1="340.40" x2="263.00" y2="343.20" stroke="#1a1a1a" stroke-width="0.9"/>
<text x="263.00" y="353.40" font-size="7" text-anchor="middle" fill="#222" font-weight="normal" stroke="#222" stroke-width="0.22">15</text>
<line x1="280.00" y1="340.40" x2="280.00" y2="343.20" stroke="#1a1a1a" stroke-width="0.9"/>
<text x="280.00" y="353.40" font-size="7" text-anchor="middle" fill="#222" font-weight="normal" stroke="#222" stroke-width="0.22">20</text>
<path d="M37.50,379.40 L38.08,379.40 L38.67,379.40 L39.25,379.40 L39.83,379.40 L40.42,379.40 L41.00,379.40 L41.58,379.40 L42.17,379.40 L42.75,379.40 L43.33,379.40 L43.92,379.40 L44.50,379.40 L45.08,379.40 L45.67,379.40 L46.25,379.40 L46.83,379.40 L47.42,379.40 L48.00,379.40 L48.58,379.40 L49.17,379.40 L49.75,380.26 L50.33,381.19 L50.92,382.16 L51.50,383.16 L52.08,384.19 L52.67,385.24 L53.25,386.32 L53.83,387.41 L54.42,388.50 L55.00,389.60 L55.58,390.69 L56.17,391.77 L56.75,392.83 L57.33,393.87 L57.92,394.88 L58.50,395.86 L59.08,396.80 L59.67,397.70 L60.25,398.56 L60.83,399.37 L61.42,400.14 L62.00,400.87 L62.58,401.55 L63.17,402.18 L63.75,402.77 L64.33,403.32 L64.92,403.82 L65.50,404.29 L66.08,404.72 L66.67,405.11 L67.25,405.47 L67.83,405.80 L68.42,406.10 L69.00,406.38 L69.58,406.63 L70.17,406.86 L70.75,407.06 L71.33,407.25 L71.92,407.42 L72.50,407.57 L73.08,407.71 L73.67,407.84 L74.25,407.95 L74.83,408.05 L75.42,408.14 L76.00,408.23 L76.58,408.30 L77.17,408.37 L77.75,408.43 L78.33,408.48 L78.92,408.53 L79.50,408.58 L80.08,408.62 L80.67,408.65 L81.25,408.68 L81.83,408.71 L82.42,408.74 L83.00,408.76 L83.58,408.78 L84.17,408.80 L84.75,408.82 L85.33,408.83 L85.92,408.85 L86.50,408.86 L87.08,408.87 L87.67,408.88 L88.25,408.89 L88.83,408.90 L89.42,408.90 L90.00,408.91 L90.58,408.92 L91.17,408.92 L91.75,408.93 L92.33,408.93 L92.92,408.93 L93.50,408.94 L94.08,408.94 L94.67,408.94 L95.25,408.95 L95.83,408.95 L96.42,408.95 L97.00,408.95 L97.58,408.95 L98.17,408.95 L98.75,408.96 L99.33,408.96 L99.92,408.96 L100.50,408.96 L101.08,408.96 L101.67,408.96 L102.25,408.96 L102.83,408.96 L103.42,408.96 L104.00,408.96 L104.58,408.96 L105.17,408.96 L105.75,408.96 L106.33,408.96 L106.92,408.96 L107.50,408.96" fill="none" stroke="#45262d" stroke-width="0.9"/>
<circle cx="73.30" cy="406.90" r="0.8" fill="#c0303a"/>
<line x1="37.50" y1="369.80" x2="37.50" y2="410.00" stroke="#1a1a1a" stroke-width="1.1"/>
<line x1="37.00" y1="409.50" x2="108.00" y2="409.50" stroke="#1a1a1a" stroke-width="1.1"/>
<text x="113.30" y="411.60" font-size="6.2" text-anchor="middle" fill="#333" font-weight="normal">x</text>
<text x="37.50" y="365.00" font-size="6.6" text-anchor="middle" fill="#333" font-weight="normal" stroke="#333" stroke-width="0.1">y</text>
<line x1="34.30" y1="372.30" x2="37.50" y2="372.30" stroke="#000" stroke-width="1.1"/>
<text x="30.70" y="374.65" font-size="6.6" text-anchor="end" fill="#2a2a2a" font-weight="normal" stroke="#2a2a2a" stroke-width="0.08">125</text>
<line x1="34.30" y1="379.70" x2="37.50" y2="379.70" stroke="#000" stroke-width="1.1"/>
<text x="30.70" y="382.05" font-size="6.6" text-anchor="end" fill="#2a2a2a" font-weight="normal" stroke="#2a2a2a" stroke-width="0.08">100</text>
<line x1="34.30" y1="387.20" x2="37.50" y2="387.20" stroke="#000" stroke-width="1.1"/>
<text x="30.70" y="389.55" font-size="6.6" text-anchor="end" fill="#2a2a2a" font-weight="normal" stroke="#2a2a2a" stroke-width="0.08">75</text>
<line x1="34.30" y1="394.70" x2="37.50" y2="394.70" stroke="#000" stroke-width="1.1"/>
<text x="30.70" y="397.05" font-size="6.6" text-anchor="end" fill="#2a2a2a" font-weight="normal" stroke="#2a2a2a" stroke-width="0.08">50</text>
<line x1="34.30" y1="402.10" x2="37.50" y2="402.10" stroke="#000" stroke-width="1.1"/>
<text x="30.70" y="404.45" font-size="6.6" text-anchor="end" fill="#2a2a2a" font-weight="normal" stroke="#2a2a2a" stroke-width="0.08">25</text>
<line x1="34.30" y1="409.50" x2="37.50" y2="409.50" stroke="#000" stroke-width="1.1"/>
<text x="30.70" y="411.85" font-size="6.6" text-anchor="end" fill="#2a2a2a" font-weight="normal" stroke="#2a2a2a" stroke-width="0.08">0</text>
<line x1="52.00" y1="409.50" x2="52.00" y2="412.30" stroke="#1a1a1a" stroke-width="0.9"/>
<text x="52.00" y="422.50" font-size="7" text-anchor="middle" fill="#222" font-weight="normal" stroke="#222" stroke-width="0.22">5</text>
<line x1="70.00" y1="409.50" x2="70.00" y2="412.30" stroke="#1a1a1a" stroke-width="0.9"/>
<text x="70.00" y="422.50" font-size="7" text-anchor="middle" fill="#222" font-weight="normal" stroke="#222" stroke-width="0.22">10</text>
<line x1="87.50" y1="409.50" x2="87.50" y2="412.30" stroke="#1a1a1a" stroke-width="0.9"/>
<text x="87.50" y="422.50" font-size="7" text-anchor="middle" fill="#222" font-weight="normal" stroke="#222" stroke-width="0.22">15</text>
<line x1="104.00" y1="409.50" x2="104.00" y2="412.30" stroke="#1a1a1a" stroke-width="0.9"/>
<text x="104.00" y="422.50" font-size="7" text-anchor="middle" fill="#222" font-weight="normal" stroke="#222" stroke-width="0.22">20</text>
<path d="M124.40,380.60 L124.98,380.60 L125.56,380.60 L126.14,380.60 L126.72,380.60 L127.30,380.60 L127.89,380.60 L128.47,380.60 L129.05,380.60 L129.63,380.60 L130.21,380.60 L130.79,380.60 L131.37,380.60 L131.95,380.60 L132.53,380.60 L133.11,380.60 L133.69,380.60 L134.27,380.60 L134.86,380.60 L135.44,380.60 L136.02,380.90 L136.60,381.70 L137.18,382.53 L137.76,383.38 L138.34,384.24 L138.92,385.12 L139.50,386.01 L140.08,386.90 L140.66,387.81 L141.24,388.71 L141.82,389.61 L142.41,390.50 L142.99,391.39 L143.57,392.27 L144.15,393.13 L144.73,393.98 L145.31,394.81 L145.89,395.61 L146.47,396.40 L147.05,397.16 L147.63,397.89 L148.21,398.59 L148.80,399.27 L149.38,399.92 L149.96,400.54 L150.54,401.13 L151.12,401.69 L151.70,402.22 L152.28,402.72 L152.86,403.20 L153.44,403.65 L154.02,404.07 L154.60,404.47 L155.18,404.84 L155.76,405.19 L156.35,405.51 L156.93,405.82 L157.51,406.10 L158.09,406.37 L158.67,406.61 L159.25,406.84 L159.83,407.06 L160.41,407.25 L160.99,407.44 L161.57,407.61 L162.15,407.77 L162.74,407.91 L163.32,408.05 L163.90,408.17 L164.48,408.29 L165.06,408.39 L165.64,408.49 L166.22,408.58 L166.80,408.67 L167.38,408.75 L167.96,408.82 L168.54,408.88 L169.12,408.94 L169.70,409.00 L170.29,409.05 L170.87,409.10 L171.45,409.14 L172.03,409.18 L172.61,409.20 L173.19,409.20 L173.77,409.20 L174.35,409.20 L174.93,409.20 L175.51,409.20 L176.09,409.20 L176.68,409.20 L177.26,409.20 L177.84,409.20 L178.42,409.20 L179.00,409.20 L179.58,409.20 L180.16,409.20 L180.74,409.20 L181.32,409.20 L181.90,409.20 L182.48,409.20 L183.06,409.20 L183.64,409.20 L184.23,409.20 L184.81,409.20 L185.39,409.20 L185.97,409.20 L186.55,409.20 L187.13,409.20 L187.71,409.20 L188.29,409.20 L188.87,409.20 L189.45,409.20 L190.03,409.20 L190.62,409.20 L191.20,409.20 L191.78,409.20 L192.36,409.20 L192.94,409.20 L193.52,409.20 L194.10,409.20" fill="none" stroke="#45262d" stroke-width="0.9"/>
<circle cx="160.30" cy="406.90" r="0.8" fill="#c0303a"/>
<path d="M143.50,396.30L147.10,396.30L145.30,393.10Z" fill="none" stroke="#333" stroke-width="0.7"/>
<line x1="124.40" y1="369.80" x2="124.40" y2="410.00" stroke="#1a1a1a" stroke-width="1.1"/>
<line x1="123.90" y1="409.50" x2="194.60" y2="409.50" stroke="#1a1a1a" stroke-width="1.1"/>
<text x="199.90" y="411.60" font-size="6.2" text-anchor="middle" fill="#333" font-weight="normal">x</text>
<text x="124.40" y="365.00" font-size="6.6" text-anchor="middle" fill="#333" font-weight="normal" stroke="#333" stroke-width="0.1">y</text>
<line x1="121.20" y1="372.30" x2="124.40" y2="372.30" stroke="#000" stroke-width="1.1"/>
<line x1="121.20" y1="379.70" x2="124.40" y2="379.70" stroke="#000" stroke-width="1.1"/>
<line x1="121.20" y1="387.20" x2="124.40" y2="387.20" stroke="#000" stroke-width="1.1"/>
<line x1="121.20" y1="394.70" x2="124.40" y2="394.70" stroke="#000" stroke-width="1.1"/>
<line x1="121.20" y1="402.10" x2="124.40" y2="402.10" stroke="#000" stroke-width="1.1"/>
<line x1="121.20" y1="409.50" x2="124.40" y2="409.50" stroke="#000" stroke-width="1.1"/>
<line x1="139.20" y1="409.50" x2="139.20" y2="412.30" stroke="#1a1a1a" stroke-width="0.9"/>
<text x="139.20" y="422.50" font-size="7" text-anchor="middle" fill="#222" font-weight="normal" stroke="#222" stroke-width="0.22">5</text>
<line x1="157.40" y1="409.50" x2="157.40" y2="412.30" stroke="#1a1a1a" stroke-width="0.9"/>
<text x="157.40" y="422.50" font-size="7" text-anchor="middle" fill="#222" font-weight="normal" stroke="#222" stroke-width="0.22">10</text>
<line x1="175.20" y1="409.50" x2="175.20" y2="412.30" stroke="#1a1a1a" stroke-width="0.9"/>
<text x="175.20" y="422.50" font-size="7" text-anchor="middle" fill="#222" font-weight="normal" stroke="#222" stroke-width="0.22">15</text>
<line x1="191.70" y1="409.50" x2="191.70" y2="412.30" stroke="#1a1a1a" stroke-width="0.9"/>
<text x="191.70" y="422.50" font-size="7" text-anchor="middle" fill="#222" font-weight="normal" stroke="#222" stroke-width="0.22">20</text>
<path d="M212.50,381.30 L213.09,381.30 L213.68,381.30 L214.26,381.30 L214.85,381.30 L215.44,381.30 L216.03,381.30 L216.62,381.30 L217.21,381.30 L217.80,381.30 L218.38,381.30 L218.97,381.30 L219.56,381.30 L220.15,381.30 L220.74,381.30 L221.33,381.30 L221.91,381.30 L222.50,381.30 L223.09,381.30 L223.68,381.30 L224.27,381.81 L224.85,382.48 L225.44,383.16 L226.03,383.87 L226.62,384.59 L227.21,385.34 L227.80,386.10 L228.39,386.87 L228.97,387.65 L229.56,388.44 L230.15,389.24 L230.74,390.04 L231.33,390.84 L231.92,391.64 L232.50,392.43 L233.09,393.22 L233.68,394.00 L234.27,394.76 L234.86,395.51 L235.44,396.24 L236.03,396.96 L236.62,397.65 L237.21,398.32 L237.80,398.97 L238.39,399.60 L238.98,400.20 L239.56,400.78 L240.15,401.33 L240.74,401.86 L241.33,402.36 L241.92,402.83 L242.50,403.29 L243.09,403.71 L243.68,404.12 L244.27,404.50 L244.86,404.86 L245.45,405.19 L246.04,405.51 L246.62,405.80 L247.21,406.08 L247.80,406.34 L248.39,406.58 L248.98,406.81 L249.56,407.02 L250.15,407.22 L250.74,407.40 L251.33,407.57 L251.92,407.73 L252.51,407.87 L253.10,408.01 L253.68,408.13 L254.27,408.25 L254.86,408.36 L255.45,408.46 L256.04,408.55 L256.62,408.64 L257.21,408.72 L257.80,408.79 L258.39,408.86 L258.98,408.92 L259.57,408.98 L260.16,409.04 L260.74,409.08 L261.33,409.13 L261.92,409.17 L262.51,409.20 L263.10,409.20 L263.69,409.20 L264.27,409.20 L264.86,409.20 L265.45,409.20 L266.04,409.20 L266.63,409.20 L267.22,409.20 L267.80,409.20 L268.39,409.20 L268.98,409.20 L269.57,409.20 L270.16,409.20 L270.75,409.20 L271.33,409.20 L271.92,409.20 L272.51,409.20 L273.10,409.20 L273.69,409.20 L274.28,409.20 L274.86,409.20 L275.45,409.20 L276.04,409.20 L276.63,409.20 L277.22,409.20 L277.81,409.20 L278.39,409.20 L278.98,409.20 L279.57,409.20 L280.16,409.20 L280.75,409.20 L281.34,409.20 L281.92,409.20 L282.51,409.20 L283.10,409.20" fill="none" stroke="#45262d" stroke-width="0.9"/>
<circle cx="248.30" cy="406.40" r="0.8" fill="#c0303a"/>
<path d="M233.20,397.20L236.80,397.20L235.00,394.00Z" fill="none" stroke="#333" stroke-width="0.7"/>
<line x1="212.50" y1="369.80" x2="212.50" y2="410.00" stroke="#1a1a1a" stroke-width="1.1"/>
<line x1="212.00" y1="409.50" x2="283.60" y2="409.50" stroke="#1a1a1a" stroke-width="1.1"/>
<text x="288.90" y="411.60" font-size="6.2" text-anchor="middle" fill="#333" font-weight="normal">x</text>
<text x="212.50" y="365.00" font-size="6.6" text-anchor="middle" fill="#333" font-weight="normal" stroke="#333" stroke-width="0.1">y</text>
<line x1="209.30" y1="372.30" x2="212.50" y2="372.30" stroke="#000" stroke-width="1.1"/>
<line x1="209.30" y1="379.70" x2="212.50" y2="379.70" stroke="#000" stroke-width="1.1"/>
<line x1="209.30" y1="387.20" x2="212.50" y2="387.20" stroke="#000" stroke-width="1.1"/>
<line x1="209.30" y1="394.70" x2="212.50" y2="394.70" stroke="#000" stroke-width="1.1"/>
<line x1="209.30" y1="402.10" x2="212.50" y2="402.10" stroke="#000" stroke-width="1.1"/>
<line x1="209.30" y1="409.50" x2="212.50" y2="409.50" stroke="#000" stroke-width="1.1"/>
<line x1="227.50" y1="409.50" x2="227.50" y2="412.30" stroke="#1a1a1a" stroke-width="0.9"/>
<text x="227.50" y="422.50" font-size="7" text-anchor="middle" fill="#222" font-weight="normal" stroke="#222" stroke-width="0.22">5</text>
<line x1="245.40" y1="409.50" x2="245.40" y2="412.30" stroke="#1a1a1a" stroke-width="0.9"/>
<text x="245.40" y="422.50" font-size="7" text-anchor="middle" fill="#222" font-weight="normal" stroke="#222" stroke-width="0.22">10</text>
<line x1="263.00" y1="409.50" x2="263.00" y2="412.30" stroke="#1a1a1a" stroke-width="0.9"/>
<text x="263.00" y="422.50" font-size="7" text-anchor="middle" fill="#222" font-weight="normal" stroke="#222" stroke-width="0.22">15</text>
<line x1="280.00" y1="409.50" x2="280.00" y2="412.30" stroke="#1a1a1a" stroke-width="0.9"/>
<text x="280.00" y="422.50" font-size="7" text-anchor="middle" fill="#222" font-weight="normal" stroke="#222" stroke-width="0.22">20</text>
<path d="M37.50,444.20 L38.09,444.20 L38.68,444.20 L39.27,444.20 L39.86,444.20 L40.45,444.20 L41.04,444.20 L41.62,444.20 L42.21,444.20 L42.80,444.20 L43.39,444.20 L43.98,444.20 L44.57,444.20 L45.16,444.20 L45.75,444.20 L46.34,444.20 L46.93,444.20 L47.52,444.20 L48.11,444.29 L48.69,444.57 L49.28,444.86 L49.87,445.17 L50.46,445.49 L51.05,445.82 L51.64,446.17 L52.23,446.53 L52.82,446.91 L53.41,447.30 L54.00,447.71 L54.59,448.13 L55.17,448.56 L55.76,449.01 L56.35,449.47 L56.94,449.94 L57.53,450.42 L58.12,450.91 L58.71,451.40 L59.30,451.91 L59.89,452.42 L60.48,452.94 L61.07,453.46 L61.66,453.99 L62.25,454.51 L62.83,455.04 L63.42,455.56 L64.01,456.09 L64.60,456.61 L65.19,457.12 L65.78,457.63 L66.37,458.13 L66.96,458.62 L67.55,459.10 L68.14,459.57 L68.73,460.03 L69.31,460.48 L69.90,460.92 L70.49,461.34 L71.08,461.75 L71.67,462.15 L72.26,462.53 L72.85,462.90 L73.44,463.25 L74.03,463.59 L74.62,463.91 L75.21,464.22 L75.80,464.52 L76.38,464.80 L76.97,465.07 L77.56,465.32 L78.15,465.57 L78.74,465.80 L79.33,466.01 L79.92,466.22 L80.51,466.42 L81.10,466.60 L81.69,466.77 L82.28,466.94 L82.87,467.09 L83.46,467.24 L84.04,467.38 L84.63,467.50 L85.22,467.63 L85.81,467.74 L86.40,467.85 L86.99,467.95 L87.58,468.04 L88.17,468.13 L88.76,468.21 L89.35,468.29 L89.94,468.36 L90.53,468.43 L91.11,468.49 L91.70,468.55 L92.29,468.60 L92.88,468.66 L93.47,468.70 L94.06,468.75 L94.65,468.79 L95.24,468.83 L95.83,468.87 L96.42,468.90 L97.01,468.93 L97.59,468.96 L98.18,468.99 L98.77,469.02 L99.36,469.04 L99.95,469.07 L100.54,469.09 L101.13,469.11 L101.72,469.13 L102.31,469.14 L102.90,469.16 L103.49,469.17 L104.08,469.19 L104.67,469.20 L105.25,469.21 L105.84,469.22 L106.43,469.23 L107.02,469.24 L107.61,469.25 L108.20,469.26" fill="none" stroke="#45262d" stroke-width="0.9"/>
<circle cx="58.60" cy="451.70" r="0.8" fill="#c0303a"/>
<circle cx="72.90" cy="462.40" r="0.8" fill="#c0303a"/>
<circle cx="83.30" cy="468.10" r="0.8" fill="#c0303a"/>
<circle cx="107.00" cy="468.80" r="0.8" fill="#c0303a"/>
<path d="M63.80,458.60L67.20,458.60L65.50,455.60Z" fill="#24404a" stroke="#24404a" stroke-width="0.5"/>
<line x1="37.50" y1="436.80" x2="37.50" y2="479.10" stroke="#1a1a1a" stroke-width="1.1"/>
<line x1="37.00" y1="478.60" x2="108.70" y2="478.60" stroke="#1a1a1a" stroke-width="1.1"/>
<text x="114.00" y="480.70" font-size="6.2" text-anchor="middle" fill="#333" font-weight="normal">x</text>
<text x="37.50" y="432.20" font-size="6.6" text-anchor="middle" fill="#333" font-weight="normal" stroke="#333" stroke-width="0.1">y</text>
<line x1="34.30" y1="438.00" x2="37.50" y2="438.00" stroke="#000" stroke-width="1.1"/>
<text x="30.70" y="440.35" font-size="6.6" text-anchor="end" fill="#2a2a2a" font-weight="normal" stroke="#2a2a2a" stroke-width="0.08">125</text>
<line x1="34.30" y1="444.90" x2="37.50" y2="444.90" stroke="#000" stroke-width="1.1"/>
<text x="30.70" y="447.25" font-size="6.6" text-anchor="end" fill="#2a2a2a" font-weight="normal" stroke="#2a2a2a" stroke-width="0.08">100</text>
<line x1="34.30" y1="451.80" x2="37.50" y2="451.80" stroke="#000" stroke-width="1.1"/>
<text x="30.70" y="454.15" font-size="6.6" text-anchor="end" fill="#2a2a2a" font-weight="normal" stroke="#2a2a2a" stroke-width="0.08">75</text>
<line x1="34.30" y1="458.60" x2="37.50" y2="458.60" stroke="#000" stroke-width="1.1"/>
<text x="30.70" y="460.95" font-size="6.6" text-anchor="end" fill="#2a2a2a" font-weight="normal" stroke="#2a2a2a" stroke-width="0.08">50</text>
<line x1="34.30" y1="465.50" x2="37.50" y2="465.50" stroke="#000" stroke-width="1.1"/>
<text x="30.70" y="467.85" font-size="6.6" text-anchor="end" fill="#2a2a2a" font-weight="normal" stroke="#2a2a2a" stroke-width="0.08">25</text>
<line x1="34.30" y1="472.20" x2="37.50" y2="472.20" stroke="#000" stroke-width="1.1"/>
<text x="30.70" y="474.55" font-size="6.6" text-anchor="end" fill="#2a2a2a" font-weight="normal" stroke="#2a2a2a" stroke-width="0.08">0</text>
<line x1="34.30" y1="478.60" x2="37.50" y2="478.60" stroke="#000" stroke-width="1.1"/>
<text x="30.70" y="480.95" font-size="6.6" text-anchor="end" fill="#2a2a2a" font-weight="normal" stroke="#2a2a2a" stroke-width="0.08">&#8722;25</text>
<line x1="52.10" y1="478.60" x2="52.10" y2="481.40" stroke="#1a1a1a" stroke-width="0.9"/>
<text x="52.10" y="491.60" font-size="7" text-anchor="middle" fill="#222" font-weight="normal" stroke="#222" stroke-width="0.22">5</text>
<line x1="69.80" y1="478.60" x2="69.80" y2="481.40" stroke="#1a1a1a" stroke-width="0.9"/>
<text x="72.40" y="491.60" font-size="7" text-anchor="middle" fill="#222" font-weight="normal" stroke="#222" stroke-width="0.22">10</text>
<line x1="87.10" y1="478.60" x2="87.10" y2="481.40" stroke="#1a1a1a" stroke-width="0.9"/>
<text x="88.30" y="491.60" font-size="7" text-anchor="middle" fill="#222" font-weight="normal" stroke="#222" stroke-width="0.22">15</text>
<line x1="104.40" y1="478.60" x2="104.40" y2="481.40" stroke="#1a1a1a" stroke-width="0.9"/>
<text x="104.00" y="491.60" font-size="7" text-anchor="middle" fill="#222" font-weight="normal" stroke="#222" stroke-width="0.22">20</text>
<path d="M124.40,448.20 L124.99,448.20 L125.59,448.20 L126.18,448.20 L126.78,448.20 L127.37,448.20 L127.97,448.20 L128.56,448.20 L129.15,448.20 L129.75,448.20 L130.34,448.20 L130.94,448.20 L131.53,448.20 L132.12,448.20 L132.72,448.20 L133.31,448.20 L133.91,448.20 L134.50,448.31 L135.09,448.52 L135.69,448.75 L136.28,448.99 L136.88,449.24 L137.47,449.51 L138.07,449.80 L138.66,450.10 L139.25,450.42 L139.85,450.75 L140.44,451.11 L141.04,451.48 L141.63,451.87 L142.22,452.28 L142.82,452.71 L143.41,453.16 L144.01,453.63 L144.60,454.11 L145.20,454.61 L145.79,455.13 L146.38,455.67 L146.98,456.22 L147.57,456.79 L148.17,457.37 L148.76,457.97 L149.35,458.57 L149.95,459.19 L150.54,459.81 L151.14,460.44 L151.73,461.08 L152.33,461.72 L152.92,462.36 L153.51,463.00 L154.11,463.63 L154.70,464.26 L155.30,464.89 L155.89,465.51 L156.49,466.11 L157.08,466.71 L157.67,467.30 L158.27,467.87 L158.86,468.42 L159.46,468.96 L160.05,469.49 L160.64,469.99 L161.24,470.48 L161.83,470.95 L162.43,471.40 L163.02,471.84 L163.62,472.25 L164.21,472.64 L164.80,473.02 L165.40,473.38 L165.99,473.72 L166.59,474.04 L167.18,474.35 L167.77,474.64 L168.37,474.91 L168.96,475.17 L169.56,475.41 L170.15,475.64 L170.75,475.85 L171.34,476.05 L171.93,476.24 L172.53,476.42 L173.12,476.59 L173.72,476.74 L174.31,476.89 L174.90,477.02 L175.50,477.15 L176.09,477.27 L176.69,477.38 L177.28,477.48 L177.88,477.58 L178.47,477.67 L179.06,477.75 L179.66,477.83 L180.25,477.90 L180.85,477.97 L181.44,478.03 L182.03,478.09 L182.63,478.14 L183.22,478.19 L183.82,478.24 L184.41,478.28 L185.00,478.30 L185.60,478.30 L186.19,478.30 L186.79,478.30 L187.38,478.30 L187.98,478.30 L188.57,478.30 L189.16,478.30 L189.76,478.30 L190.35,478.30 L190.95,478.30 L191.54,478.30 L192.13,478.30 L192.73,478.30 L193.32,478.30 L193.92,478.30 L194.51,478.30 L195.11,478.30 L195.70,478.30" fill="none" stroke="#45262d" stroke-width="0.9"/>
<path d="M152.80,465.50L156.20,465.50L154.50,462.50Z" fill="#24404a" stroke="#24404a" stroke-width="0.5"/>
<line x1="124.40" y1="436.80" x2="124.40" y2="479.10" stroke="#1a1a1a" stroke-width="1.1"/>
<line x1="123.90" y1="478.60" x2="196.20" y2="478.60" stroke="#1a1a1a" stroke-width="1.1"/>
<text x="201.50" y="480.70" font-size="6.2" text-anchor="middle" fill="#333" font-weight="normal">x</text>
<text x="124.40" y="432.20" font-size="6.6" text-anchor="middle" fill="#333" font-weight="normal" stroke="#333" stroke-width="0.1">y</text>
<line x1="121.20" y1="438.20" x2="124.40" y2="438.20" stroke="#000" stroke-width="1.1"/>
<line x1="121.20" y1="446.50" x2="124.40" y2="446.50" stroke="#000" stroke-width="1.1"/>
<line x1="121.20" y1="454.60" x2="124.40" y2="454.60" stroke="#000" stroke-width="1.1"/>
<line x1="121.20" y1="462.70" x2="124.40" y2="462.70" stroke="#000" stroke-width="1.1"/>
<line x1="121.20" y1="470.70" x2="124.40" y2="470.70" stroke="#000" stroke-width="1.1"/>
<line x1="121.20" y1="478.60" x2="124.40" y2="478.60" stroke="#000" stroke-width="1.1"/>
<line x1="139.50" y1="478.60" x2="139.50" y2="481.40" stroke="#1a1a1a" stroke-width="0.9"/>
<text x="139.60" y="491.60" font-size="7" text-anchor="middle" fill="#222" font-weight="normal" stroke="#222" stroke-width="0.22">5</text>
<line x1="157.20" y1="478.60" x2="157.20" y2="481.40" stroke="#1a1a1a" stroke-width="0.9"/>
<text x="157.70" y="491.60" font-size="7" text-anchor="middle" fill="#222" font-weight="normal" stroke="#222" stroke-width="0.22">10</text>
<line x1="174.60" y1="478.60" x2="174.60" y2="481.40" stroke="#1a1a1a" stroke-width="0.9"/>
<text x="175.40" y="491.60" font-size="7" text-anchor="middle" fill="#222" font-weight="normal" stroke="#222" stroke-width="0.22">15</text>
<line x1="192.30" y1="478.60" x2="192.30" y2="481.40" stroke="#1a1a1a" stroke-width="0.9"/>
<text x="193.10" y="491.60" font-size="7" text-anchor="middle" fill="#222" font-weight="normal" stroke="#222" stroke-width="0.22">20</text>
<path d="M212.50,445.60 L213.09,445.60 L213.69,445.60 L214.28,445.60 L214.88,445.60 L215.47,445.60 L216.07,445.60 L216.66,445.60 L217.26,445.60 L217.85,445.60 L218.45,445.60 L219.04,445.60 L219.64,445.60 L220.23,445.60 L220.83,445.60 L221.42,445.60 L222.02,445.60 L222.62,445.60 L223.21,445.60 L223.81,445.82 L224.40,446.18 L225.00,446.54 L225.59,446.90 L226.19,447.26 L226.78,447.62 L227.38,447.99 L227.97,448.36 L228.56,448.73 L229.16,449.10 L229.75,449.47 L230.35,449.84 L230.94,450.21 L231.54,450.59 L232.13,450.96 L232.73,451.33 L233.32,451.71 L233.92,452.08 L234.51,452.45 L235.11,452.82 L235.70,453.19 L236.30,453.56 L236.89,453.92 L237.49,454.29 L238.08,454.65 L238.68,455.01 L239.27,455.36 L239.87,455.72 L240.46,456.07 L241.06,456.42 L241.66,456.76 L242.25,457.10 L242.84,457.44 L243.44,457.77 L244.03,458.10 L244.63,458.43 L245.22,458.75 L245.82,459.07 L246.41,459.38 L247.01,459.69 L247.60,460.00 L248.20,460.30 L248.79,460.59 L249.39,460.88 L249.98,461.17 L250.58,461.45 L251.17,461.72 L251.77,461.99 L252.36,462.26 L252.96,462.52 L253.55,462.77 L254.15,463.02 L254.75,463.27 L255.34,463.51 L255.93,463.74 L256.53,463.97 L257.12,464.20 L257.72,464.42 L258.31,464.63 L258.91,464.84 L259.50,465.05 L260.10,465.25 L260.69,465.45 L261.29,465.64 L261.88,465.82 L262.48,466.00 L263.07,466.18 L263.67,466.35 L264.26,466.52 L264.86,466.69 L265.45,466.85 L266.05,467.00 L266.64,467.15 L267.24,467.30 L267.83,467.44 L268.43,467.58 L269.02,467.72 L269.62,467.85 L270.21,467.98 L270.81,468.10 L271.40,468.22 L272.00,468.34 L272.59,468.45 L273.19,468.56 L273.78,468.67 L274.38,468.78 L274.97,468.88 L275.57,468.98 L276.16,469.07 L276.76,469.16 L277.35,469.25 L277.95,469.34 L278.54,469.42 L279.14,469.51 L279.73,469.59 L280.33,469.66 L280.92,469.74 L281.52,469.81 L282.12,469.88 L282.71,469.95 L283.30,470.01 L283.90,470.07" fill="none" stroke="#45262d" stroke-width="0.9"/>
<circle cx="234.50" cy="453.20" r="0.8" fill="#c0303a"/>
<circle cx="248.90" cy="457.20" r="0.8" fill="#c0303a"/>
<circle cx="259.20" cy="467.10" r="0.8" fill="#c0303a"/>
<circle cx="283.50" cy="469.80" r="0.8" fill="#c0303a"/>
<path d="M242.00,459.10L245.40,459.10L243.70,456.10Z" fill="#24404a" stroke="#24404a" stroke-width="0.5"/>
<line x1="212.50" y1="436.80" x2="212.50" y2="479.10" stroke="#1a1a1a" stroke-width="1.1"/>
<line x1="212.00" y1="478.60" x2="284.40" y2="478.60" stroke="#1a1a1a" stroke-width="1.1"/>
<text x="289.70" y="480.70" font-size="6.2" text-anchor="middle" fill="#333" font-weight="normal">x</text>
<text x="212.50" y="432.20" font-size="6.6" text-anchor="middle" fill="#333" font-weight="normal" stroke="#333" stroke-width="0.1">y</text>
<line x1="209.30" y1="438.20" x2="212.50" y2="438.20" stroke="#000" stroke-width="1.1"/>
<line x1="209.30" y1="445.10" x2="212.50" y2="445.10" stroke="#000" stroke-width="1.1"/>
<line x1="209.30" y1="452.00" x2="212.50" y2="452.00" stroke="#000" stroke-width="1.1"/>
<line x1="209.30" y1="458.60" x2="212.50" y2="458.60" stroke="#000" stroke-width="1.1"/>
<line x1="209.30" y1="465.30" x2="212.50" y2="465.30" stroke="#000" stroke-width="1.1"/>
<line x1="209.30" y1="471.90" x2="212.50" y2="471.90" stroke="#000" stroke-width="1.1"/>
<line x1="209.30" y1="478.60" x2="212.50" y2="478.60" stroke="#000" stroke-width="1.1"/>
<line x1="227.50" y1="478.60" x2="227.50" y2="481.40" stroke="#1a1a1a" stroke-width="0.9"/>
<text x="227.30" y="491.60" font-size="7" text-anchor="middle" fill="#222" font-weight="normal" stroke="#222" stroke-width="0.22">5</text>
<line x1="245.40" y1="478.60" x2="245.40" y2="481.40" stroke="#1a1a1a" stroke-width="0.9"/>
<text x="245.50" y="491.60" font-size="7" text-anchor="middle" fill="#222" font-weight="normal" stroke="#222" stroke-width="0.22">10</text>
<line x1="263.00" y1="478.60" x2="263.00" y2="481.40" stroke="#1a1a1a" stroke-width="0.9"/>
<text x="262.80" y="491.60" font-size="7" text-anchor="middle" fill="#222" font-weight="normal" stroke="#222" stroke-width="0.22">15</text>
<line x1="280.00" y1="478.60" x2="280.00" y2="481.40" stroke="#1a1a1a" stroke-width="0.9"/>
<text x="280.10" y="491.60" font-size="7" text-anchor="middle" fill="#222" font-weight="normal" stroke="#222" stroke-width="0.22">20</text>
<path d="M37.50,514.30 L38.08,514.30 L38.67,514.30 L39.25,514.30 L39.83,514.30 L40.42,514.30 L41.00,514.30 L41.58,514.30 L42.17,514.30 L42.75,514.30 L43.33,514.30 L43.92,514.30 L44.50,514.30 L45.08,514.30 L45.67,514.30 L46.25,514.30 L46.83,514.30 L47.42,514.30 L48.00,514.30 L48.58,514.30 L49.17,514.30 L49.75,514.30 L50.33,514.30 L50.92,514.30 L51.50,514.30 L52.08,514.30 L52.67,514.30 L53.25,514.30 L53.83,514.30 L54.42,514.31 L55.00,514.31 L55.58,514.31 L56.17,514.31 L56.75,514.31 L57.33,514.32 L57.92,514.33 L58.50,514.33 L59.08,514.35 L59.67,514.37 L60.25,514.39 L60.83,514.42 L61.42,514.47 L62.00,514.53 L62.58,514.61 L63.17,514.71 L63.75,514.85 L64.33,515.03 L64.92,515.26 L65.50,515.55 L66.08,515.91 L66.67,516.37 L67.25,516.94 L67.83,517.63 L68.42,518.46 L69.00,519.45 L69.58,520.59 L70.17,521.90 L70.75,523.36 L71.33,524.97 L71.92,526.68 L72.50,528.47 L73.08,530.29 L73.67,532.10 L74.25,533.87 L74.83,535.55 L75.42,537.11 L76.00,538.55 L76.58,539.84 L77.17,540.99 L77.75,541.99 L78.33,542.87 L78.92,543.63 L79.50,544.28 L80.08,544.83 L80.67,545.30 L81.25,545.70 L81.83,546.03 L82.42,546.32 L83.00,546.56 L83.58,546.76 L84.17,546.93 L84.75,547.07 L85.33,547.19 L85.92,547.29 L86.50,547.30 L87.08,547.30 L87.67,547.30 L88.25,547.30 L88.83,547.30 L89.42,547.30 L90.00,547.30 L90.58,547.30 L91.17,547.30 L91.75,547.30 L92.33,547.30 L92.92,547.30 L93.50,547.30 L94.08,547.30 L94.67,547.30 L95.25,547.30 L95.83,547.30 L96.42,547.30 L97.00,547.30 L97.58,547.30 L98.17,547.30 L98.75,547.30 L99.33,547.30 L99.92,547.30 L100.50,547.30 L101.08,547.30 L101.67,547.30 L102.25,547.30 L102.83,547.30 L103.42,547.30 L104.00,547.30 L104.58,547.30 L105.17,547.30 L105.75,547.30 L106.33,547.30 L106.92,547.30 L107.50,547.30" fill="none" stroke="#45262d" stroke-width="0.9"/>
<circle cx="48.80" cy="512.70" r="0.8" fill="#c0303a"/>
<circle cx="59.00" cy="517.90" r="0.8" fill="#c0303a"/>
<path d="M72.10,532.70L75.50,532.70L73.80,529.70Z" fill="#24404a" stroke="#24404a" stroke-width="0.5"/>
<line x1="37.50" y1="508.40" x2="37.50" y2="548.10" stroke="#1a1a1a" stroke-width="1.1"/>
<line x1="37.00" y1="547.60" x2="108.00" y2="547.60" stroke="#1a1a1a" stroke-width="1.1"/>
<text x="113.30" y="549.70" font-size="6.2" text-anchor="middle" fill="#333" font-weight="normal">x</text>
<text x="37.50" y="503.40" font-size="6.6" text-anchor="middle" fill="#333" font-weight="normal" stroke="#333" stroke-width="0.1">y</text>
<line x1="34.30" y1="510.40" x2="37.50" y2="510.40" stroke="#000" stroke-width="1.1"/>
<text x="30.70" y="512.75" font-size="6.6" text-anchor="end" fill="#2a2a2a" font-weight="normal" stroke="#2a2a2a" stroke-width="0.08">100</text>
<line x1="34.30" y1="519.80" x2="37.50" y2="519.80" stroke="#000" stroke-width="1.1"/>
<text x="30.70" y="522.15" font-size="6.6" text-anchor="end" fill="#2a2a2a" font-weight="normal" stroke="#2a2a2a" stroke-width="0.08">75</text>
<line x1="34.30" y1="529.20" x2="37.50" y2="529.20" stroke="#000" stroke-width="1.1"/>
<text x="30.70" y="531.55" font-size="6.6" text-anchor="end" fill="#2a2a2a" font-weight="normal" stroke="#2a2a2a" stroke-width="0.08">50</text>
<line x1="34.30" y1="538.40" x2="37.50" y2="538.40" stroke="#000" stroke-width="1.1"/>
<text x="30.70" y="540.75" font-size="6.6" text-anchor="end" fill="#2a2a2a" font-weight="normal" stroke="#2a2a2a" stroke-width="0.08">25</text>
<line x1="34.30" y1="547.60" x2="37.50" y2="547.60" stroke="#000" stroke-width="1.1"/>
<text x="30.70" y="549.95" font-size="6.6" text-anchor="end" fill="#2a2a2a" font-weight="normal" stroke="#2a2a2a" stroke-width="0.08">0</text>
<line x1="52.00" y1="547.60" x2="52.00" y2="550.40" stroke="#1a1a1a" stroke-width="0.9"/>
<text x="52.00" y="560.60" font-size="7" text-anchor="middle" fill="#222" font-weight="normal" stroke="#222" stroke-width="0.22">5</text>
<line x1="70.00" y1="547.60" x2="70.00" y2="550.40" stroke="#1a1a1a" stroke-width="0.9"/>
<text x="70.00" y="560.60" font-size="7" text-anchor="middle" fill="#222" font-weight="normal" stroke="#222" stroke-width="0.22">10</text>
<line x1="87.50" y1="547.60" x2="87.50" y2="550.40" stroke="#1a1a1a" stroke-width="0.9"/>
<text x="87.50" y="560.60" font-size="7" text-anchor="middle" fill="#222" font-weight="normal" stroke="#222" stroke-width="0.22">15</text>
<line x1="104.00" y1="547.60" x2="104.00" y2="550.40" stroke="#1a1a1a" stroke-width="0.9"/>
<text x="104.00" y="560.60" font-size="7" text-anchor="middle" fill="#222" font-weight="normal" stroke="#222" stroke-width="0.22">20</text>
<path d="M124.40,514.89 L124.98,514.90 L125.56,514.91 L126.14,514.92 L126.72,514.93 L127.30,514.95 L127.89,514.98 L128.47,515.01 L129.05,515.05 L129.63,515.09 L130.21,515.14 L130.79,515.20 L131.37,515.27 L131.95,515.35 L132.53,515.43 L133.11,515.53 L133.69,515.64 L134.27,515.75 L134.86,515.88 L135.44,516.03 L136.02,516.18 L136.60,516.35 L137.18,516.53 L137.76,516.72 L138.34,516.93 L138.92,517.15 L139.50,517.38 L140.08,517.63 L140.66,517.89 L141.24,518.17 L141.82,518.46 L142.41,518.76 L142.99,519.08 L143.57,519.41 L144.15,519.75 L144.73,520.10 L145.31,520.46 L145.89,520.84 L146.47,521.23 L147.05,521.63 L147.63,522.03 L148.21,522.45 L148.80,522.87 L149.38,523.30 L149.96,523.74 L150.54,524.19 L151.12,524.64 L151.70,525.09 L152.28,525.55 L152.86,526.01 L153.44,526.48 L154.02,526.94 L154.60,527.41 L155.18,527.88 L155.76,528.35 L156.35,528.81 L156.93,529.28 L157.51,529.74 L158.09,530.21 L158.67,530.66 L159.25,531.12 L159.83,531.57 L160.41,532.02 L160.99,532.46 L161.57,532.90 L162.15,533.33 L162.74,533.75 L163.32,534.17 L163.90,534.59 L164.48,534.99 L165.06,535.39 L165.64,535.79 L166.22,536.17 L166.80,536.55 L167.38,536.93 L167.96,537.29 L168.54,537.65 L169.12,538.00 L169.70,538.34 L170.29,538.68 L170.87,539.01 L171.45,539.33 L172.03,539.65 L172.61,539.95 L173.19,540.25 L173.77,540.55 L174.35,540.83 L174.93,541.11 L175.51,541.38 L176.09,541.65 L176.68,541.91 L177.26,542.16 L177.84,542.41 L178.42,542.65 L179.00,542.88 L179.58,543.11 L180.16,543.33 L180.74,543.55 L181.32,543.76 L181.90,543.97 L182.48,544.17 L183.06,544.36 L183.64,544.55 L184.23,544.74 L184.81,544.92 L185.39,545.10 L185.97,545.27 L186.55,545.43 L187.13,545.59 L187.71,545.75 L188.29,545.91 L188.87,546.06 L189.45,546.20 L190.03,546.34 L190.62,546.48 L191.20,546.62 L191.78,546.75 L192.36,546.88 L192.94,547.00 L193.52,547.12 L194.10,547.24" fill="none" stroke="#45262d" stroke-width="0.9"/>
<circle cx="136.00" cy="518.80" r="0.8" fill="#c0303a"/>
<circle cx="145.60" cy="520.80" r="0.8" fill="#c0303a"/>
<circle cx="171.20" cy="538.70" r="0.8" fill="#c0303a"/>
<path d="M156.80,531.80L160.20,531.80L158.50,528.80Z" fill="#24404a" stroke="#24404a" stroke-width="0.5"/>
<line x1="124.40" y1="508.40" x2="124.40" y2="548.10" stroke="#1a1a1a" stroke-width="1.1"/>
<line x1="123.90" y1="547.60" x2="194.60" y2="547.60" stroke="#1a1a1a" stroke-width="1.1"/>
<text x="199.90" y="549.70" font-size="6.2" text-anchor="middle" fill="#333" font-weight="normal">x</text>
<text x="124.40" y="503.40" font-size="6.6" text-anchor="middle" fill="#333" font-weight="normal" stroke="#333" stroke-width="0.1">y</text>
<line x1="121.20" y1="510.40" x2="124.40" y2="510.40" stroke="#000" stroke-width="1.1"/>
<line x1="121.20" y1="519.80" x2="124.40" y2="519.80" stroke="#000" stroke-width="1.1"/>
<line x1="121.20" y1="529.20" x2="124.40" y2="529.20" stroke="#000" stroke-width="1.1"/>
<line x1="121.20" y1="538.40" x2="124.40" y2="538.40" stroke="#000" stroke-width="1.1"/>
<line x1="121.20" y1="547.60" x2="124.40" y2="547.60" stroke="#000" stroke-width="1.1"/>
<line x1="139.20" y1="547.60" x2="139.20" y2="550.40" stroke="#1a1a1a" stroke-width="0.9"/>
<text x="139.20" y="560.60" font-size="7" text-anchor="middle" fill="#222" font-weight="normal" stroke="#222" stroke-width="0.22">5</text>
<line x1="157.40" y1="547.60" x2="157.40" y2="550.40" stroke="#1a1a1a" stroke-width="0.9"/>
<text x="157.40" y="560.60" font-size="7" text-anchor="middle" fill="#222" font-weight="normal" stroke="#222" stroke-width="0.22">10</text>
<line x1="175.20" y1="547.60" x2="175.20" y2="550.40" stroke="#1a1a1a" stroke-width="0.9"/>
<text x="175.20" y="560.60" font-size="7" text-anchor="middle" fill="#222" font-weight="normal" stroke="#222" stroke-width="0.22">15</text>
<line x1="191.70" y1="547.60" x2="191.70" y2="550.40" stroke="#1a1a1a" stroke-width="0.9"/>
<text x="191.70" y="560.60" font-size="7" text-anchor="middle" fill="#222" font-weight="normal" stroke="#222" stroke-width="0.22">20</text>
<path d="M212.50,512.60 L213.09,512.60 L213.68,512.60 L214.26,512.60 L214.85,512.60 L215.44,512.60 L216.03,512.60 L216.62,512.60 L217.21,512.60 L217.80,512.60 L218.38,512.60 L218.97,512.60 L219.56,512.60 L220.15,512.60 L220.74,512.60 L221.33,512.60 L221.91,512.60 L222.50,512.60 L223.09,512.60 L223.68,512.81 L224.27,513.04 L224.85,513.29 L225.44,513.54 L226.03,513.81 L226.62,514.08 L227.21,514.37 L227.80,514.66 L228.39,514.97 L228.97,515.29 L229.56,515.61 L230.15,515.95 L230.74,516.30 L231.33,516.66 L231.92,517.03 L232.50,517.42 L233.09,517.81 L233.68,518.21 L234.27,518.63 L234.86,519.05 L235.44,519.49 L236.03,519.94 L236.62,520.39 L237.21,520.86 L237.80,521.33 L238.39,521.81 L238.98,522.30 L239.56,522.80 L240.15,523.30 L240.74,523.81 L241.33,524.33 L241.92,524.85 L242.50,525.38 L243.09,525.91 L243.68,526.44 L244.27,526.97 L244.86,527.51 L245.45,528.05 L246.04,528.59 L246.62,529.12 L247.21,529.66 L247.80,530.19 L248.39,530.72 L248.98,531.25 L249.56,531.77 L250.15,532.29 L250.74,532.80 L251.33,533.31 L251.92,533.80 L252.51,534.30 L253.10,534.78 L253.68,535.25 L254.27,535.72 L254.86,536.18 L255.45,536.62 L256.04,537.06 L256.62,537.49 L257.21,537.91 L257.80,538.31 L258.39,538.71 L258.98,539.09 L259.57,539.47 L260.16,539.83 L260.74,540.18 L261.33,540.52 L261.92,540.85 L262.51,541.17 L263.10,541.48 L263.69,541.78 L264.27,542.06 L264.86,542.34 L265.45,542.61 L266.04,542.86 L266.63,543.11 L267.22,543.35 L267.80,543.57 L268.39,543.79 L268.98,544.00 L269.57,544.20 L270.16,544.40 L270.75,544.58 L271.33,544.76 L271.92,544.93 L272.51,545.09 L273.10,545.25 L273.69,545.40 L274.28,545.54 L274.86,545.67 L275.45,545.80 L276.04,545.93 L276.63,546.04 L277.22,546.16 L277.81,546.26 L278.39,546.37 L278.98,546.46 L279.57,546.56 L280.16,546.64 L280.75,546.73 L281.34,546.81 L281.92,546.89 L282.51,546.96 L283.10,547.03" fill="none" stroke="#45262d" stroke-width="0.9"/>
<circle cx="223.40" cy="512.70" r="0.8" fill="#c0303a"/>
<circle cx="234.50" cy="519.20" r="0.8" fill="#c0303a"/>
<circle cx="248.40" cy="528.50" r="0.8" fill="#c0303a"/>
<circle cx="259.20" cy="540.40" r="0.8" fill="#c0303a"/>
<path d="M247.30,531.40L250.70,531.40L249.00,528.40Z" fill="#24404a" stroke="#24404a" stroke-width="0.5"/>
<line x1="212.50" y1="508.40" x2="212.50" y2="548.10" stroke="#1a1a1a" stroke-width="1.1"/>
<line x1="212.00" y1="547.60" x2="283.60" y2="547.60" stroke="#1a1a1a" stroke-width="1.1"/>
<text x="288.90" y="549.70" font-size="6.2" text-anchor="middle" fill="#333" font-weight="normal">x</text>
<text x="212.50" y="503.40" font-size="6.6" text-anchor="middle" fill="#333" font-weight="normal" stroke="#333" stroke-width="0.1">y</text>
<line x1="209.30" y1="510.40" x2="212.50" y2="510.40" stroke="#000" stroke-width="1.1"/>
<line x1="209.30" y1="519.80" x2="212.50" y2="519.80" stroke="#000" stroke-width="1.1"/>
<line x1="209.30" y1="529.20" x2="212.50" y2="529.20" stroke="#000" stroke-width="1.1"/>
<line x1="209.30" y1="538.40" x2="212.50" y2="538.40" stroke="#000" stroke-width="1.1"/>
<line x1="209.30" y1="547.60" x2="212.50" y2="547.60" stroke="#000" stroke-width="1.1"/>
<line x1="227.50" y1="547.60" x2="227.50" y2="550.40" stroke="#1a1a1a" stroke-width="0.9"/>
<text x="227.50" y="560.60" font-size="7" text-anchor="middle" fill="#222" font-weight="normal" stroke="#222" stroke-width="0.22">5</text>
<line x1="245.40" y1="547.60" x2="245.40" y2="550.40" stroke="#1a1a1a" stroke-width="0.9"/>
<text x="245.40" y="560.60" font-size="7" text-anchor="middle" fill="#222" font-weight="normal" stroke="#222" stroke-width="0.22">10</text>
<line x1="263.00" y1="547.60" x2="263.00" y2="550.40" stroke="#1a1a1a" stroke-width="0.9"/>
<text x="263.00" y="560.60" font-size="7" text-anchor="middle" fill="#222" font-weight="normal" stroke="#222" stroke-width="0.22">15</text>
<line x1="280.00" y1="547.60" x2="280.00" y2="550.40" stroke="#1a1a1a" stroke-width="0.9"/>
<text x="280.00" y="560.60" font-size="7" text-anchor="middle" fill="#222" font-weight="normal" stroke="#222" stroke-width="0.22">20</text>
<text x="30.75" y="560.60" font-size="6.5" text-anchor="middle" fill="#222" font-weight="normal" stroke="#222" stroke-width="0.22">Day:0</text>
<line x1="37.60" y1="326.00" x2="53.00" y2="326.00" stroke="#000" stroke-width="1.25"/>
<path d="M46.00,323.80L51.40,326.00L46.00,328.20Z" fill="#000"/>
<line x1="52.60" y1="326.00" x2="52.60" y2="338.40" stroke="#000" stroke-width="1.2"/>
<path d="M50.30,334.50L54.90,334.50L52.60,339.40Z" fill="#000"/>
<path d="M35.20,319.60L40.00,319.60L37.60,324.60Z" fill="#000"/>
<line x1="37.60" y1="395.20" x2="58.40" y2="395.20" stroke="#000" stroke-width="1.25"/>
<path d="M51.60,393.00L57.00,395.20L51.60,397.40Z" fill="#000"/>
<line x1="57.90" y1="395.20" x2="57.90" y2="407.50" stroke="#000" stroke-width="1.2"/>
<path d="M55.60,403.60L60.20,403.60L57.90,408.50Z" fill="#000"/>
<path d="M35.20,388.60L40.00,388.60L37.60,393.60Z" fill="#000"/>
<line x1="11.40" y1="306.00" x2="11.40" y2="403.70" stroke="#222" stroke-width="1.0"/>
<path d="M7.7,311.6L11.4,303.3L15.1,311.6L11.4,309.2Z" fill="#111"/>
<line x1="11.40" y1="446.70" x2="11.40" y2="547.20" stroke="#222" stroke-width="1.0"/>
<text x="12.80" y="424.30" font-size="6.8" text-anchor="middle" fill="#222" font-weight="bold" transform="rotate(-90 12.8 424.3)">% of TdT+</text>
<text x="295.80" y="320.20" font-size="6.8" text-anchor="middle" fill="#3a3a3a" font-weight="normal" transform="rotate(90 295.8 320.2)">PreMegE</text>
<text x="295.80" y="389.80" font-size="6.8" text-anchor="middle" fill="#3a3a3a" font-weight="normal" transform="rotate(90 295.8 389.8)">PreCFU-E</text>
<text x="295.80" y="458.70" font-size="6.8" text-anchor="middle" fill="#3a3a3a" font-weight="normal" transform="rotate(90 295.8 458.7)">CFU-E</text>
<text x="295.80" y="528.50" font-size="6.8" text-anchor="middle" fill="#3a3a3a" font-weight="normal" transform="rotate(90 295.8 528.5)">ProBasoE</text>
<text x="318.70" y="285.60" font-size="13" text-anchor="start" fill="#000" font-weight="bold">C</text>
<line x1="343.50" y1="289.50" x2="343.50" y2="461.10" stroke="#000" stroke-width="1.3"/>
<line x1="342.90" y1="460.50" x2="512.00" y2="460.50" stroke="#000" stroke-width="1.3"/>
<line x1="340.70" y1="295.30" x2="343.50" y2="295.30" stroke="#1a1a1a" stroke-width="0.9"/>
<text x="337.20" y="297.70" font-size="6.8" text-anchor="end" fill="#222222" font-weight="normal" stroke="#222222" stroke-width="0.22">8</text>
<line x1="340.70" y1="336.60" x2="343.50" y2="336.60" stroke="#1a1a1a" stroke-width="0.9"/>
<text x="337.20" y="339.00" font-size="6.8" text-anchor="end" fill="#222222" font-weight="normal" stroke="#222222" stroke-width="0.22">6</text>
<line x1="340.70" y1="377.90" x2="343.50" y2="377.90" stroke="#1a1a1a" stroke-width="0.9"/>
<text x="337.20" y="380.30" font-size="6.8" text-anchor="end" fill="#222222" font-weight="normal" stroke="#222222" stroke-width="0.22">4</text>
<line x1="340.70" y1="419.20" x2="343.50" y2="419.20" stroke="#1a1a1a" stroke-width="0.9"/>
<text x="337.20" y="421.60" font-size="6.8" text-anchor="end" fill="#222222" font-weight="normal" stroke="#222222" stroke-width="0.22">2</text>
<line x1="340.70" y1="460.50" x2="343.50" y2="460.50" stroke="#1a1a1a" stroke-width="0.9"/>
<text x="337.20" y="462.90" font-size="6.8" text-anchor="end" fill="#222222" font-weight="normal" stroke="#222222" stroke-width="0.22">0</text>
<line x1="363.20" y1="460.50" x2="363.20" y2="463.50" stroke="#1a1a1a" stroke-width="0.9"/>
<line x1="406.40" y1="460.50" x2="406.40" y2="463.50" stroke="#1a1a1a" stroke-width="0.9"/>
<line x1="449.60" y1="460.50" x2="449.60" y2="463.50" stroke="#1a1a1a" stroke-width="0.9"/>
<line x1="492.60" y1="460.50" x2="492.60" y2="463.50" stroke="#1a1a1a" stroke-width="0.9"/>
<rect x="348.10" y="422.00" width="6.75" height="38.50" fill="#c80a2c"/>
<rect x="359.70" y="439.60" width="6.75" height="20.90" fill="#1b4a86"/>
<rect x="371.50" y="444.60" width="6.75" height="15.90" fill="#33a636"/>
<line x1="351.47" y1="400.70" x2="351.47" y2="434.30" stroke="#111" stroke-width="1.0"/>
<line x1="349.27" y1="400.70" x2="353.67" y2="400.70" stroke="#111" stroke-width="1.0"/>
<line x1="349.27" y1="434.30" x2="353.67" y2="434.30" stroke="#111" stroke-width="1.0"/>
<circle cx="351.47" cy="400.70" r="1.75" fill="#111"/>
<circle cx="351.47" cy="427.50" r="1.75" fill="#111"/>
<circle cx="351.47" cy="434.30" r="1.75" fill="#111"/>
<circle cx="365.07" cy="433.20" r="1.75" fill="#111"/>
<circle cx="362.47" cy="435.50" r="1.75" fill="#111"/>
<circle cx="364.07" cy="437.70" r="1.75" fill="#111"/>
<circle cx="360.88" cy="441.50" r="1.75" fill="#111"/>
<line x1="374.88" y1="434.30" x2="374.88" y2="452.50" stroke="#111" stroke-width="1.0"/>
<line x1="372.68" y1="434.30" x2="377.07" y2="434.30" stroke="#111" stroke-width="1.0"/>
<line x1="372.68" y1="452.50" x2="377.07" y2="452.50" stroke="#111" stroke-width="1.0"/>
<circle cx="374.88" cy="434.30" r="1.75" fill="#111"/>
<circle cx="374.88" cy="442.90" r="1.75" fill="#111"/>
<circle cx="374.88" cy="452.50" r="1.75" fill="#111"/>
<rect x="391.30" y="416.20" width="6.75" height="44.30" fill="#c80a2c"/>
<rect x="402.90" y="421.60" width="6.75" height="38.90" fill="#1b4a86"/>
<rect x="414.70" y="409.40" width="6.75" height="51.10" fill="#33a636"/>
<line x1="394.67" y1="402.60" x2="394.67" y2="427.90" stroke="#111" stroke-width="1.0"/>
<line x1="392.47" y1="402.60" x2="396.87" y2="402.60" stroke="#111" stroke-width="1.0"/>
<line x1="392.47" y1="427.90" x2="396.87" y2="427.90" stroke="#111" stroke-width="1.0"/>
<circle cx="394.67" cy="402.60" r="1.75" fill="#111"/>
<circle cx="394.67" cy="415.60" r="1.75" fill="#111"/>
<circle cx="394.67" cy="427.90" r="1.75" fill="#111"/>
<line x1="406.27" y1="411.30" x2="406.27" y2="426.00" stroke="#111" stroke-width="1.0"/>
<line x1="404.07" y1="411.30" x2="408.47" y2="411.30" stroke="#111" stroke-width="1.0"/>
<line x1="404.07" y1="426.00" x2="408.47" y2="426.00" stroke="#111" stroke-width="1.0"/>
<circle cx="406.27" cy="407.10" r="1.75" fill="#111"/>
<circle cx="404.47" cy="423.00" r="1.75" fill="#111"/>
<circle cx="407.77" cy="424.00" r="1.75" fill="#111"/>
<circle cx="405.27" cy="426.50" r="1.75" fill="#111"/>
<line x1="418.07" y1="401.40" x2="418.07" y2="414.80" stroke="#111" stroke-width="1.0"/>
<line x1="415.88" y1="401.40" x2="420.27" y2="401.40" stroke="#111" stroke-width="1.0"/>
<line x1="415.88" y1="414.80" x2="420.27" y2="414.80" stroke="#111" stroke-width="1.0"/>
<circle cx="418.07" cy="401.40" r="1.75" fill="#111"/>
<circle cx="418.07" cy="407.40" r="1.75" fill="#111"/>
<circle cx="418.07" cy="414.80" r="1.75" fill="#111"/>
<rect x="434.50" y="409.10" width="6.75" height="51.40" fill="#c80a2c"/>
<rect x="446.10" y="422.20" width="6.75" height="38.30" fill="#1b4a86"/>
<rect x="457.90" y="432.40" width="6.75" height="28.10" fill="#33a636"/>
<line x1="437.88" y1="391.40" x2="437.88" y2="423.30" stroke="#111" stroke-width="1.0"/>
<line x1="435.68" y1="391.40" x2="440.07" y2="391.40" stroke="#111" stroke-width="1.0"/>
<line x1="435.68" y1="423.30" x2="440.07" y2="423.30" stroke="#111" stroke-width="1.0"/>
<circle cx="437.88" cy="391.40" r="1.75" fill="#111"/>
<circle cx="437.88" cy="407.90" r="1.75" fill="#111"/>
<circle cx="437.88" cy="423.30" r="1.75" fill="#111"/>
<circle cx="448.38" cy="415.30" r="1.75" fill="#111"/>
<circle cx="451.48" cy="417.00" r="1.75" fill="#111"/>
<circle cx="449.68" cy="419.50" r="1.75" fill="#111"/>
<circle cx="449.68" cy="431.90" r="1.75" fill="#111"/>
<circle cx="459.68" cy="427.90" r="1.75" fill="#111"/>
<circle cx="462.68" cy="429.00" r="1.75" fill="#111"/>
<circle cx="461.28" cy="435.80" r="1.75" fill="#111"/>
<rect x="477.50" y="324.60" width="6.75" height="135.90" fill="#c80a2c"/>
<rect x="489.10" y="358.90" width="6.75" height="101.60" fill="#1b4a86"/>
<rect x="500.90" y="363.20" width="6.75" height="97.30" fill="#33a636"/>
<line x1="480.88" y1="308.10" x2="480.88" y2="331.00" stroke="#111" stroke-width="1.0"/>
<line x1="478.68" y1="308.10" x2="483.07" y2="308.10" stroke="#111" stroke-width="1.0"/>
<line x1="478.68" y1="331.00" x2="483.07" y2="331.00" stroke="#111" stroke-width="1.0"/>
<circle cx="480.88" cy="308.10" r="1.75" fill="#111"/>
<circle cx="478.68" cy="330.90" r="1.75" fill="#111"/>
<circle cx="483.07" cy="330.90" r="1.75" fill="#111"/>
<line x1="492.48" y1="343.80" x2="492.48" y2="366.00" stroke="#111" stroke-width="1.0"/>
<line x1="490.28" y1="343.80" x2="494.68" y2="343.80" stroke="#111" stroke-width="1.0"/>
<line x1="490.28" y1="366.00" x2="494.68" y2="366.00" stroke="#111" stroke-width="1.0"/>
<circle cx="492.48" cy="337.90" r="1.75" fill="#111"/>
<circle cx="492.48" cy="355.90" r="1.75" fill="#111"/>
<line x1="504.28" y1="351.60" x2="504.28" y2="369.00" stroke="#111" stroke-width="1.0"/>
<line x1="502.08" y1="351.60" x2="506.48" y2="351.60" stroke="#111" stroke-width="1.0"/>
<line x1="502.08" y1="369.00" x2="506.48" y2="369.00" stroke="#111" stroke-width="1.0"/>
<circle cx="504.18" cy="351.60" r="1.75" fill="#111"/>
<circle cx="506.18" cy="364.80" r="1.75" fill="#111"/>
<circle cx="502.68" cy="368.80" r="1.75" fill="#111"/>
<text x="362.80" y="427.60" font-size="6.2" text-anchor="middle" fill="#333" font-weight="normal" stroke="#333" stroke-width="0.22">n.s.</text>
<text x="374.50" y="427.60" font-size="6.2" text-anchor="middle" fill="#333" font-weight="normal" stroke="#333" stroke-width="0.22">n.s.</text>
<text x="405.80" y="400.60" font-size="6.2" text-anchor="middle" fill="#333" font-weight="normal" stroke="#333" stroke-width="0.22">n.s.</text>
<text x="418.00" y="395.50" font-size="6.2" text-anchor="middle" fill="#333" font-weight="normal" stroke="#333" stroke-width="0.22">n.s.</text>
<text x="449.20" y="409.20" font-size="6.2" text-anchor="middle" fill="#333" font-weight="normal" stroke="#333" stroke-width="0.22">n.s.</text>
<text x="461.60" y="422.30" font-size="6.2" text-anchor="middle" fill="#333" font-weight="normal" stroke="#333" stroke-width="0.22">n.s.</text>
<circle cx="492.50" cy="330.20" r="0.9" fill="#111"/>
<circle cx="504.30" cy="344.90" r="0.9" fill="#111"/>
<text x="363.20" y="473.50" font-size="6.8" text-anchor="middle" fill="#222" font-weight="normal" stroke="#222" stroke-width="0.22">PreMegE to</text>
<text x="363.20" y="482.30" font-size="6.8" text-anchor="middle" fill="#222" font-weight="normal" stroke="#222" stroke-width="0.22">PreCFU-E</text>
<text x="406.40" y="473.50" font-size="6.8" text-anchor="middle" fill="#222" font-weight="normal" stroke="#222" stroke-width="0.22">PreCFU-E to</text>
<text x="406.40" y="482.30" font-size="6.8" text-anchor="middle" fill="#222" font-weight="normal" stroke="#222" stroke-width="0.22">CFU-E</text>
<text x="449.60" y="473.50" font-size="6.8" text-anchor="middle" fill="#222" font-weight="normal" stroke="#222" stroke-width="0.22">CFU-E to</text>
<text x="449.60" y="482.30" font-size="6.8" text-anchor="middle" fill="#222" font-weight="normal" stroke="#222" stroke-width="0.22">ProBasoE</text>
<text x="492.60" y="473.50" font-size="6.8" text-anchor="middle" fill="#222" font-weight="normal" stroke="#222" stroke-width="0.22">PreMegE to</text>
<text x="492.60" y="482.30" font-size="6.8" text-anchor="middle" fill="#222" font-weight="normal" stroke="#222" stroke-width="0.22">ProBasoE</text>
<text x="326.40" y="375.00" font-size="8.6" text-anchor="middle" fill="#222" font-weight="bold" transform="rotate(-90 326.4 375.0)" textLength="63.8" lengthAdjust="spacingAndGlyphs">Days of differentiation</text>
<rect x="360.30" y="495.20" width="7.00" height="7.00" fill="#c80a2c"/>
<text x="370.80" y="501.00" font-size="6.4" text-anchor="start" fill="#222" font-weight="normal" stroke="#222" stroke-width="0.22">BM 5-FU&#8722;</text>
<rect x="407.10" y="495.20" width="7.00" height="7.00" fill="#1b4a86"/>
<text x="417.80" y="501.00" font-size="6.4" text-anchor="start" fill="#222" font-weight="normal" stroke="#222" stroke-width="0.22">BM 5-FU+</text>
<rect x="455.20" y="495.20" width="7.00" height="7.00" fill="#33a636"/>
<text x="465.40" y="501.00" font-size="6.4" text-anchor="start" fill="#222" font-weight="normal" stroke="#222" stroke-width="0.22">SP 5-FU+</text>
<rect x="0" y="0" width="520" height="1.1" fill="#3c3c3c"/>
<rect x="0" y="0" width="1.1" height="570" fill="#4a4a4a"/>
<rect x="518.8" y="0" width="1.2" height="570" fill="#383838"/>
<rect x="0" y="568.8" width="520" height="1.2" fill="#383838"/>
</svg>
</body></html>
